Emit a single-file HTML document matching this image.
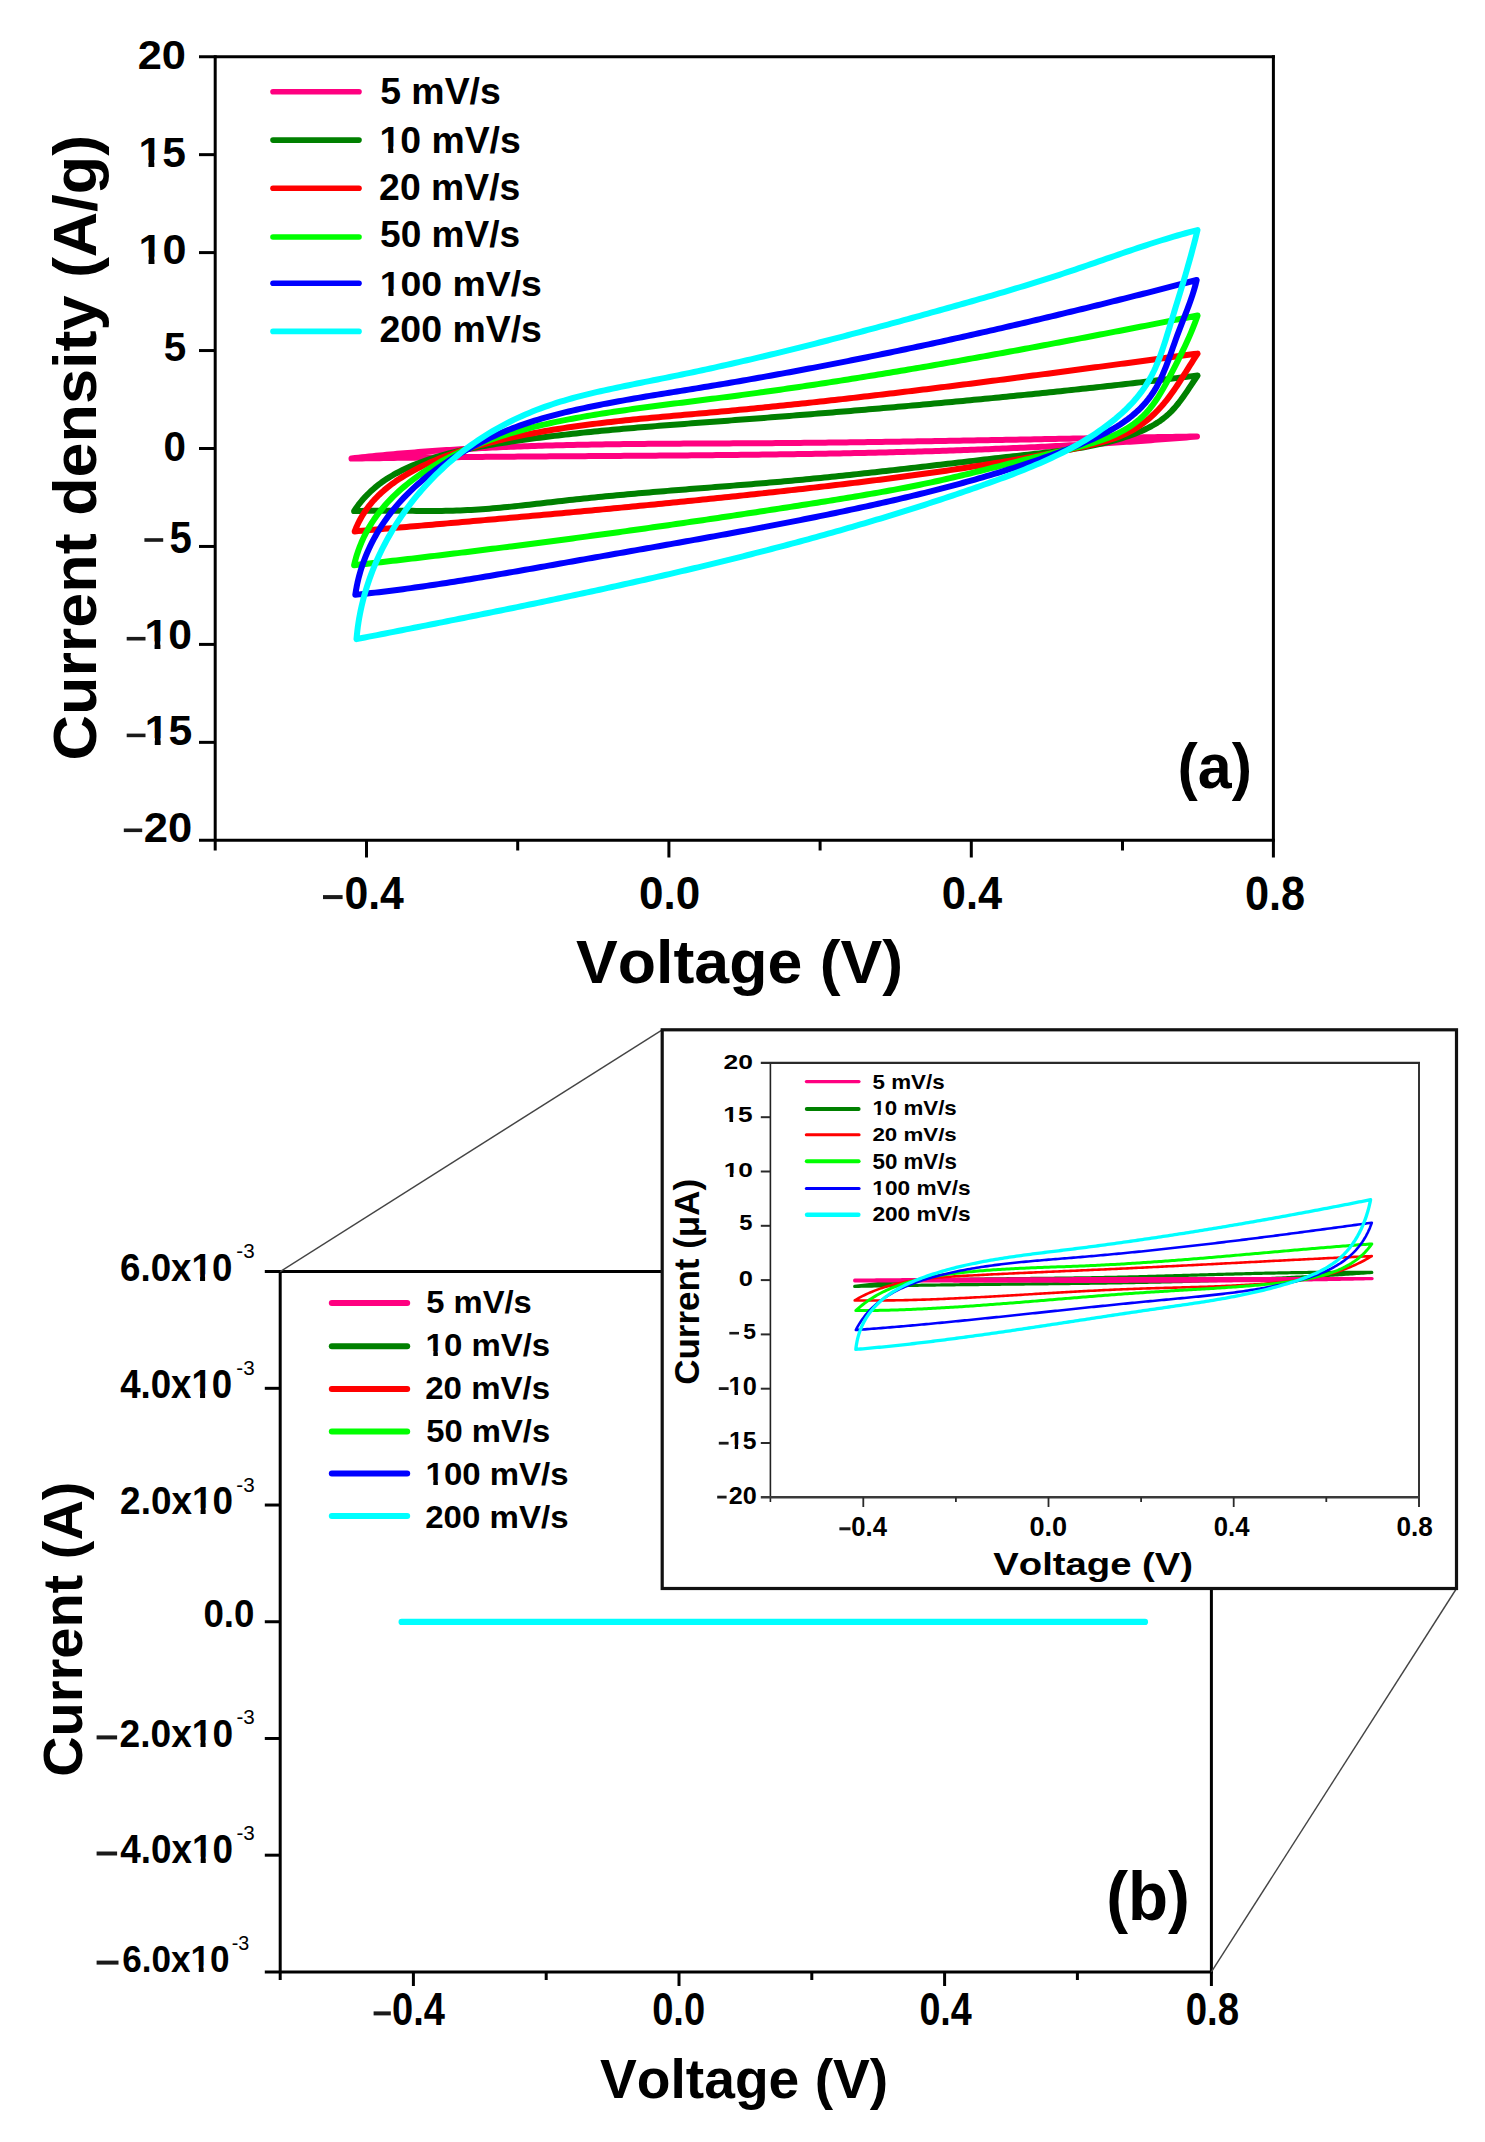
<!DOCTYPE html><html><head><meta charset="utf-8"><style>html,body{margin:0;padding:0;background:#fff;}svg{display:block;}text{font-family:"Liberation Sans",sans-serif;font-kerning:none;}</style></head><body>
<svg width="1485" height="2142" viewBox="0 0 1485 2142">
<rect width="1485" height="2142" fill="#fff"/>
<line x1="215.20" y1="55.20" x2="215.20" y2="850.50" stroke="#000" stroke-width="3.0" stroke-linecap="butt"/>
<line x1="199.00" y1="56.70" x2="1274.90" y2="56.70" stroke="#000" stroke-width="3.0" stroke-linecap="butt"/>
<line x1="1273.40" y1="55.20" x2="1273.40" y2="857.50" stroke="#000" stroke-width="3.0" stroke-linecap="butt"/>
<line x1="199.00" y1="840.30" x2="1274.90" y2="840.30" stroke="#000" stroke-width="3.0" stroke-linecap="butt"/>
<line x1="199.00" y1="154.65" x2="215.20" y2="154.65" stroke="#000" stroke-width="3.0" stroke-linecap="butt"/>
<line x1="199.00" y1="252.60" x2="215.20" y2="252.60" stroke="#000" stroke-width="3.0" stroke-linecap="butt"/>
<line x1="199.00" y1="350.55" x2="215.20" y2="350.55" stroke="#000" stroke-width="3.0" stroke-linecap="butt"/>
<line x1="199.00" y1="448.50" x2="215.20" y2="448.50" stroke="#000" stroke-width="3.0" stroke-linecap="butt"/>
<line x1="199.00" y1="546.45" x2="215.20" y2="546.45" stroke="#000" stroke-width="3.0" stroke-linecap="butt"/>
<line x1="199.00" y1="644.40" x2="215.20" y2="644.40" stroke="#000" stroke-width="3.0" stroke-linecap="butt"/>
<line x1="199.00" y1="742.35" x2="215.20" y2="742.35" stroke="#000" stroke-width="3.0" stroke-linecap="butt"/>
<line x1="366.50" y1="840.30" x2="366.50" y2="857.50" stroke="#000" stroke-width="3.0" stroke-linecap="butt"/>
<line x1="668.90" y1="840.30" x2="668.90" y2="857.50" stroke="#000" stroke-width="3.0" stroke-linecap="butt"/>
<line x1="971.30" y1="840.30" x2="971.30" y2="857.50" stroke="#000" stroke-width="3.0" stroke-linecap="butt"/>
<line x1="517.70" y1="840.30" x2="517.70" y2="850.50" stroke="#000" stroke-width="3.0" stroke-linecap="butt"/>
<line x1="820.10" y1="840.30" x2="820.10" y2="850.50" stroke="#000" stroke-width="3.0" stroke-linecap="butt"/>
<line x1="1122.50" y1="840.30" x2="1122.50" y2="850.50" stroke="#000" stroke-width="3.0" stroke-linecap="butt"/>
<text transform="translate(137.70,68.70) scale(1.0635,1)" font-size="40.82" font-weight="bold" fill="#000">20</text>
<text transform="translate(138.52,167.08) scale(1.0005,1)" font-size="42.56" font-weight="bold" fill="#000">15</text>
<rect x="138.52" y="159.85" width="9.94" height="8.94" fill="#fff"/>
<rect x="154.30" y="159.85" width="7.90" height="8.94" fill="#fff"/>
<text transform="translate(138.48,263.69) scale(1.0284,1)" font-size="41.95" font-weight="bold" fill="#000">10</text>
<rect x="138.48" y="256.56" width="10.07" height="8.81" fill="#fff"/>
<rect x="154.47" y="256.56" width="8.00" height="8.81" fill="#fff"/>
<text transform="translate(163.76,361.49) scale(0.9754,1)" font-size="41.42" font-weight="bold" fill="#000">5</text>
<text transform="translate(163.40,460.68) scale(0.9496,1)" font-size="42.51" font-weight="bold" fill="#000">0</text>
<rect x="144.40" y="538.20" width="18.80" height="3.60" fill="#1a1a1a"/>
<text transform="translate(169.46,552.87) scale(0.9196,1)" font-size="43.71" font-weight="bold" fill="#000">5</text>
<rect x="126.70" y="636.90" width="18.80" height="3.60" fill="#1a1a1a"/>
<text transform="translate(144.61,648.68) scale(0.9899,1)" font-size="43.08" font-weight="bold" fill="#000">10</text>
<rect x="144.61" y="641.35" width="9.95" height="9.05" fill="#fff"/>
<rect x="160.42" y="641.35" width="7.91" height="9.05" fill="#fff"/>
<rect x="126.70" y="733.60" width="18.80" height="3.60" fill="#1a1a1a"/>
<text transform="translate(144.81,745.48) scale(0.9895,1)" font-size="43.14" font-weight="bold" fill="#000">15</text>
<rect x="144.81" y="738.14" width="9.96" height="9.06" fill="#fff"/>
<rect x="160.63" y="738.14" width="7.91" height="9.06" fill="#fff"/>
<rect x="123.80" y="828.50" width="18.40" height="3.60" fill="#1a1a1a"/>
<text transform="translate(143.69,841.88) scale(1.0233,1)" font-size="42.51" font-weight="bold" fill="#000">20</text>
<rect x="323.00" y="895.10" width="19.60" height="4.00" fill="#1a1a1a"/>
<text transform="translate(344.41,909.05) scale(0.9312,1)" font-size="45.90" font-weight="bold" fill="#000">0.4</text>
<text transform="translate(638.96,909.44) scale(0.9352,1)" font-size="47.03" font-weight="bold" fill="#000">0.0</text>
<text transform="translate(941.78,909.44) scale(0.9230,1)" font-size="47.03" font-weight="bold" fill="#000">0.4</text>
<text transform="translate(1244.99,910.04) scale(0.9159,1)" font-size="47.32" font-weight="bold" fill="#000">0.8</text>
<text transform="translate(576.07,982.50) scale(1.0286,1)" font-size="60.90" font-weight="bold" fill="#000">Voltage (V)</text>
<text transform="translate(96.44,760.48) rotate(-90) scale(1.0397,1)" font-size="60.51" font-weight="bold" fill="#000">Current density (A/g)</text>
<text transform="translate(1177.47,787.64) scale(0.9759,1)" font-size="62.44" font-weight="bold" fill="#000">(a)</text>
<line x1="273.00" y1="91.80" x2="359.00" y2="91.80" stroke="#ff0080" stroke-width="5.6" stroke-linecap="round"/>
<text transform="translate(380.15,104.14) scale(1.0233,1)" font-size="36.58" font-weight="bold" fill="#000">5 mV/s</text>
<line x1="273.00" y1="140.10" x2="359.00" y2="140.10" stroke="#008000" stroke-width="5.6" stroke-linecap="round"/>
<text transform="translate(379.44,152.64) scale(1.0224,1)" font-size="36.58" font-weight="bold" fill="#000">10 mV/s</text>
<rect x="379.44" y="146.42" width="8.73" height="7.68" fill="#fff"/>
<rect x="393.31" y="146.42" width="6.93" height="7.68" fill="#fff"/>
<line x1="273.00" y1="188.30" x2="359.00" y2="188.30" stroke="#ff0000" stroke-width="5.6" stroke-linecap="round"/>
<text transform="translate(379.10,199.64) scale(1.0057,1)" font-size="37.15" font-weight="bold" fill="#000">20 mV/s</text>
<line x1="273.00" y1="237.00" x2="359.00" y2="237.00" stroke="#00ff00" stroke-width="5.6" stroke-linecap="round"/>
<text transform="translate(380.06,247.44) scale(1.0012,1)" font-size="37.01" font-weight="bold" fill="#000">50 mV/s</text>
<line x1="273.00" y1="283.20" x2="359.00" y2="283.20" stroke="#0000ff" stroke-width="5.6" stroke-linecap="round"/>
<text transform="translate(379.64,295.65) scale(1.0473,1)" font-size="35.73" font-weight="bold" fill="#000">100 mV/s</text>
<rect x="379.64" y="289.57" width="8.74" height="7.50" fill="#fff"/>
<rect x="393.51" y="289.57" width="6.94" height="7.50" fill="#fff"/>
<line x1="273.00" y1="331.40" x2="359.00" y2="331.40" stroke="#00ffff" stroke-width="5.6" stroke-linecap="round"/>
<text transform="translate(379.50,342.04) scale(1.0319,1)" font-size="36.30" font-weight="bold" fill="#000">200 mV/s</text>
<path d="M351.50,458.50 L355.01,458.09 L358.53,457.69 L362.04,457.31 L365.56,456.93 L369.07,456.56 L372.59,456.20 L376.11,455.85 L379.62,455.50 L383.14,455.16 L386.66,454.82 L390.18,454.49 L393.70,454.17 L397.22,453.86 L400.74,453.55 L404.26,453.25 L407.78,452.95 L411.31,452.66 L414.83,452.38 L418.35,452.10 L421.88,451.83 L425.40,451.57 L428.92,451.31 L432.45,451.05 L435.98,450.81 L439.50,450.57 L443.03,450.33 L446.55,450.10 L450.08,449.88 L453.61,449.66 L457.14,449.44 L460.67,449.23 L464.20,449.03 L467.73,448.83 L471.25,448.64 L474.79,448.45 L478.32,448.27 L481.85,448.09 L485.38,447.91 L488.91,447.75 L492.44,447.58 L495.97,447.42 L499.51,447.27 L503.04,447.12 L506.57,446.97 L510.11,446.83 L513.64,446.69 L517.18,446.56 L520.71,446.43 L524.25,446.30 L527.78,446.18 L531.32,446.06 L534.85,445.95 L538.39,445.83 L541.93,445.73 L545.46,445.62 L549.00,445.52 L552.54,445.43 L556.08,445.34 L559.61,445.25 L563.15,445.16 L566.69,445.08 L570.23,444.99 L573.77,444.92 L577.31,444.84 L580.85,444.77 L584.39,444.70 L587.93,444.64 L591.47,444.57 L595.01,444.51 L598.55,444.45 L602.09,444.40 L605.63,444.34 L609.17,444.29 L612.71,444.24 L616.25,444.19 L619.79,444.15 L623.33,444.11 L626.87,444.07 L630.42,444.03 L633.96,443.99 L637.50,443.95 L641.04,443.92 L644.59,443.89 L648.13,443.85 L651.67,443.82 L655.21,443.80 L658.76,443.77 L662.30,443.74 L665.84,443.72 L669.38,443.69 L672.93,443.67 L676.47,443.65 L680.01,443.63 L683.56,443.61 L687.10,443.59 L690.64,443.57 L694.19,443.55 L697.73,443.53 L701.27,443.51 L704.82,443.49 L708.36,443.48 L711.90,443.46 L715.45,443.44 L718.99,443.43 L722.53,443.41 L726.08,443.39 L729.62,443.38 L733.16,443.36 L736.71,443.34 L740.25,443.32 L743.79,443.30 L747.34,443.28 L750.88,443.26 L754.42,443.24 L757.97,443.22 L761.51,443.20 L765.05,443.18 L768.60,443.15 L772.14,443.13 L775.68,443.10 L779.22,443.08 L782.77,443.05 L786.31,443.02 L789.85,442.99 L793.39,442.96 L796.93,442.93 L800.48,442.89 L804.02,442.86 L807.56,442.82 L811.10,442.79 L814.64,442.75 L818.19,442.71 L821.73,442.68 L825.27,442.64 L828.81,442.60 L832.35,442.56 L835.89,442.52 L839.43,442.47 L842.97,442.43 L846.52,442.39 L850.06,442.34 L853.60,442.30 L857.14,442.25 L860.68,442.20 L864.22,442.16 L867.76,442.11 L871.30,442.06 L874.84,442.01 L878.38,441.96 L881.92,441.91 L885.46,441.86 L889.00,441.80 L892.55,441.75 L896.09,441.70 L899.63,441.64 L903.17,441.59 L906.71,441.54 L910.25,441.48 L913.79,441.42 L917.33,441.37 L920.87,441.31 L924.41,441.25 L927.95,441.20 L931.49,441.14 L935.03,441.08 L938.57,441.02 L942.11,440.96 L945.65,440.90 L949.19,440.84 L952.73,440.78 L956.27,440.72 L959.81,440.66 L963.35,440.60 L966.89,440.53 L970.43,440.47 L973.97,440.41 L977.51,440.35 L981.05,440.28 L984.58,440.22 L988.12,440.16 L991.66,440.09 L995.20,440.03 L998.74,439.96 L1002.28,439.90 L1005.82,439.84 L1009.36,439.77 L1012.90,439.71 L1016.44,439.64 L1019.98,439.58 L1023.52,439.51 L1027.06,439.45 L1030.60,439.38 L1034.14,439.32 L1037.68,439.25 L1041.22,439.19 L1044.76,439.12 L1048.30,439.06 L1051.84,438.99 L1055.38,438.93 L1058.92,438.86 L1062.46,438.79 L1066.00,438.73 L1069.54,438.66 L1073.08,438.60 L1076.62,438.54 L1080.16,438.47 L1083.70,438.41 L1087.24,438.34 L1090.78,438.28 L1094.32,438.21 L1097.86,438.15 L1101.40,438.09 L1104.94,438.02 L1108.48,437.96 L1112.02,437.90 L1115.56,437.83 L1119.10,437.77 L1122.64,437.71 L1126.18,437.65 L1129.72,437.59 L1133.26,437.53 L1136.80,437.46 L1140.34,437.40 L1143.88,437.34 L1147.42,437.28 L1150.96,437.23 L1154.51,437.17 L1158.05,437.11 L1161.59,437.05 L1165.13,436.99 L1168.67,436.94 L1172.21,436.88 L1175.75,436.82 L1179.29,436.77 L1182.83,436.71 L1186.38,436.66 L1189.92,436.60 L1193.46,436.55 L1197.00,436.50 L1193.47,436.81 L1189.95,437.10 L1186.42,437.40 L1182.89,437.69 L1179.36,437.97 L1175.83,438.25 L1172.31,438.53 L1168.78,438.81 L1165.25,439.08 L1161.72,439.35 L1158.19,439.62 L1154.66,439.88 L1151.13,440.14 L1147.60,440.40 L1144.07,440.65 L1140.54,440.91 L1137.01,441.15 L1133.48,441.40 L1129.95,441.64 L1126.42,441.88 L1122.89,442.12 L1119.36,442.35 L1115.83,442.58 L1112.30,442.81 L1108.77,443.04 L1105.24,443.26 L1101.71,443.48 L1098.17,443.69 L1094.64,443.91 L1091.11,444.12 L1087.58,444.33 L1084.05,444.53 L1080.51,444.74 L1076.98,444.94 L1073.45,445.14 L1069.91,445.33 L1066.38,445.52 L1062.85,445.71 L1059.31,445.90 L1055.78,446.09 L1052.25,446.27 L1048.71,446.45 L1045.18,446.63 L1041.65,446.80 L1038.11,446.97 L1034.58,447.15 L1031.04,447.31 L1027.51,447.48 L1023.97,447.64 L1020.44,447.80 L1016.91,447.96 L1013.37,448.12 L1009.84,448.27 L1006.30,448.42 L1002.76,448.57 L999.23,448.72 L995.69,448.87 L992.16,449.01 L988.62,449.15 L985.09,449.29 L981.55,449.42 L978.01,449.56 L974.48,449.69 L970.94,449.82 L967.41,449.95 L963.87,450.08 L960.33,450.20 L956.80,450.32 L953.26,450.44 L949.72,450.56 L946.18,450.68 L942.65,450.79 L939.11,450.91 L935.57,451.02 L932.04,451.13 L928.50,451.23 L924.96,451.34 L921.42,451.44 L917.89,451.54 L914.35,451.64 L910.81,451.74 L907.27,451.84 L903.73,451.93 L900.19,452.03 L896.66,452.12 L893.12,452.21 L889.58,452.30 L886.04,452.39 L882.50,452.47 L878.96,452.56 L875.43,452.64 L871.89,452.72 L868.35,452.80 L864.81,452.88 L861.27,452.95 L857.73,453.03 L854.19,453.10 L850.65,453.18 L847.11,453.25 L843.57,453.32 L840.03,453.39 L836.49,453.45 L832.96,453.52 L829.42,453.58 L825.88,453.65 L822.34,453.71 L818.80,453.77 L815.26,453.83 L811.72,453.89 L808.18,453.95 L804.64,454.00 L801.10,454.06 L797.56,454.11 L794.02,454.17 L790.48,454.22 L786.94,454.27 L783.40,454.32 L779.86,454.37 L776.32,454.42 L772.78,454.47 L769.23,454.51 L765.69,454.56 L762.15,454.60 L758.61,454.65 L755.07,454.69 L751.53,454.73 L747.99,454.78 L744.45,454.82 L740.91,454.86 L737.37,454.90 L733.83,454.93 L730.29,454.97 L726.75,455.01 L723.21,455.05 L719.67,455.08 L716.13,455.12 L712.58,455.15 L709.04,455.18 L705.50,455.22 L701.96,455.25 L698.42,455.28 L694.88,455.31 L691.34,455.35 L687.80,455.38 L684.26,455.41 L680.72,455.44 L677.17,455.47 L673.63,455.49 L670.09,455.52 L666.55,455.55 L663.01,455.58 L659.47,455.61 L655.93,455.63 L652.39,455.66 L648.85,455.68 L645.31,455.71 L641.76,455.74 L638.22,455.76 L634.68,455.79 L631.14,455.81 L627.60,455.84 L624.06,455.86 L620.52,455.89 L616.98,455.91 L613.44,455.93 L609.90,455.96 L606.35,455.98 L602.81,456.01 L599.27,456.03 L595.73,456.05 L592.19,456.08 L588.65,456.10 L585.11,456.13 L581.57,456.15 L578.03,456.17 L574.49,456.20 L570.95,456.22 L567.40,456.24 L563.86,456.27 L560.32,456.29 L556.78,456.32 L553.24,456.34 L549.70,456.37 L546.16,456.39 L542.62,456.42 L539.08,456.44 L535.54,456.47 L532.00,456.50 L528.46,456.52 L524.92,456.55 L521.38,456.58 L517.84,456.60 L514.30,456.63 L510.76,456.66 L507.22,456.69 L503.67,456.72 L500.13,456.75 L496.59,456.77 L493.05,456.81 L489.51,456.84 L485.97,456.87 L482.43,456.90 L478.89,456.93 L475.35,456.96 L471.82,457.00 L468.28,457.03 L464.74,457.07 L461.20,457.10 L457.66,457.14 L454.12,457.17 L450.58,457.21 L447.04,457.25 L443.50,457.29 L439.96,457.33 L436.42,457.37 L432.88,457.41 L429.34,457.45 L425.80,457.49 L422.26,457.54 L418.73,457.58 L415.19,457.63 L411.65,457.67 L408.11,457.72 L404.57,457.77 L401.03,457.82 L397.49,457.87 L393.95,457.92 L390.42,457.97 L386.88,458.02 L383.34,458.08 L379.80,458.13 L376.26,458.19 L372.73,458.24 L369.19,458.30 L365.65,458.36 L362.11,458.42 L358.58,458.48 L355.04,458.54 L351.50,458.60 Z" fill="none" stroke="#ff0080" stroke-width="6.0" stroke-linejoin="round" stroke-linecap="round"/>
<path d="M354.10,511.10 L356.20,507.98 L358.39,504.97 L360.66,502.08 L363.00,499.29 L365.43,496.62 L367.93,494.04 L370.49,491.56 L373.13,489.18 L375.83,486.89 L378.59,484.70 L381.41,482.58 L384.29,480.56 L387.23,478.61 L390.21,476.75 L393.24,474.96 L396.32,473.24 L399.44,471.59 L402.60,470.00 L405.80,468.48 L409.04,467.02 L412.31,465.61 L415.60,464.26 L418.93,462.96 L422.28,461.71 L425.65,460.50 L429.04,459.35 L432.46,458.23 L435.90,457.16 L439.35,456.12 L442.83,455.13 L446.32,454.18 L449.83,453.26 L453.35,452.37 L456.89,451.52 L460.45,450.70 L464.01,449.91 L467.59,449.15 L471.17,448.41 L474.77,447.70 L478.37,447.01 L481.98,446.35 L485.60,445.71 L489.22,445.08 L492.85,444.48 L496.48,443.88 L500.11,443.31 L503.74,442.75 L507.37,442.19 L511.01,441.65 L514.64,441.12 L518.26,440.60 L521.89,440.09 L525.52,439.58 L529.15,439.09 L532.77,438.60 L536.39,438.13 L540.02,437.66 L543.64,437.20 L547.26,436.75 L550.88,436.30 L554.50,435.87 L558.12,435.44 L561.74,435.02 L565.36,434.61 L568.98,434.20 L572.59,433.80 L576.21,433.41 L579.82,433.02 L583.44,432.64 L587.05,432.27 L590.67,431.90 L594.28,431.54 L597.89,431.19 L601.50,430.84 L605.12,430.49 L608.73,430.15 L612.34,429.82 L615.95,429.49 L619.56,429.16 L623.17,428.84 L626.78,428.53 L630.39,428.21 L634.00,427.90 L637.61,427.60 L641.21,427.30 L644.82,427.00 L648.43,426.71 L652.04,426.41 L655.65,426.12 L659.25,425.84 L662.86,425.55 L666.47,425.27 L670.08,424.99 L673.69,424.71 L677.29,424.44 L680.90,424.16 L684.51,423.89 L688.12,423.62 L691.73,423.35 L695.33,423.08 L698.94,422.81 L702.55,422.54 L706.16,422.27 L709.77,422.00 L713.38,421.73 L716.99,421.46 L720.60,421.19 L724.21,420.92 L727.82,420.65 L731.43,420.38 L735.05,420.11 L738.66,419.84 L742.27,419.56 L745.88,419.29 L749.50,419.01 L753.11,418.73 L756.72,418.46 L760.34,418.18 L763.95,417.90 L767.57,417.62 L771.18,417.34 L774.80,417.05 L778.41,416.77 L782.03,416.49 L785.64,416.20 L789.26,415.91 L792.88,415.63 L796.49,415.34 L800.11,415.05 L803.73,414.76 L807.34,414.47 L810.96,414.18 L814.58,413.88 L818.20,413.59 L821.82,413.29 L825.43,413.00 L829.05,412.70 L832.67,412.40 L836.29,412.10 L839.91,411.80 L843.53,411.50 L847.15,411.20 L850.77,410.89 L854.39,410.59 L858.01,410.28 L861.63,409.98 L865.25,409.67 L868.87,409.36 L872.49,409.05 L876.11,408.74 L879.73,408.42 L883.35,408.11 L886.97,407.80 L890.59,407.48 L894.21,407.16 L897.83,406.84 L901.45,406.52 L905.07,406.20 L908.69,405.88 L912.31,405.56 L915.93,405.23 L919.55,404.91 L923.17,404.58 L926.79,404.25 L930.41,403.92 L934.03,403.59 L937.65,403.26 L941.27,402.92 L944.89,402.59 L948.51,402.25 L952.13,401.92 L955.75,401.58 L959.37,401.24 L962.98,400.90 L966.60,400.55 L970.22,400.21 L973.84,399.86 L977.46,399.52 L981.08,399.17 L984.70,398.82 L988.31,398.47 L991.93,398.12 L995.55,397.76 L999.17,397.41 L1002.79,397.05 L1006.40,396.69 L1010.02,396.33 L1013.64,395.97 L1017.25,395.61 L1020.87,395.25 L1024.48,394.88 L1028.10,394.52 L1031.72,394.15 L1035.33,393.78 L1038.95,393.41 L1042.56,393.04 L1046.17,392.66 L1049.79,392.29 L1053.40,391.91 L1057.02,391.53 L1060.63,391.15 L1064.24,390.77 L1067.85,390.39 L1071.47,390.00 L1075.08,389.62 L1078.69,389.23 L1082.30,388.84 L1085.91,388.45 L1089.52,388.05 L1093.13,387.66 L1096.74,387.27 L1100.35,386.87 L1103.96,386.47 L1107.56,386.07 L1111.17,385.67 L1114.78,385.26 L1118.38,384.86 L1121.99,384.45 L1125.60,384.04 L1129.20,383.63 L1132.81,383.22 L1136.41,382.80 L1140.01,382.39 L1143.62,381.97 L1147.22,381.55 L1150.82,381.13 L1154.42,380.71 L1158.03,380.28 L1161.63,379.86 L1165.23,379.43 L1168.83,379.00 L1172.42,378.57 L1176.02,378.14 L1179.62,377.70 L1183.22,377.26 L1186.81,376.83 L1190.41,376.39 L1194.00,375.94 L1197.60,375.50 L1195.57,378.48 L1193.54,381.52 L1191.50,384.60 L1189.45,387.70 L1187.37,390.82 L1185.25,393.92 L1183.10,396.99 L1180.89,400.02 L1178.62,402.99 L1176.28,405.88 L1173.87,408.67 L1171.37,411.34 L1168.78,413.88 L1166.09,416.28 L1163.30,418.53 L1160.42,420.64 L1157.45,422.63 L1154.42,424.49 L1151.31,426.24 L1148.14,427.89 L1144.92,429.45 L1141.65,430.91 L1138.34,432.30 L1135.01,433.62 L1131.64,434.88 L1128.26,436.08 L1124.85,437.23 L1121.43,438.32 L1117.98,439.37 L1114.52,440.36 L1111.04,441.31 L1107.55,442.21 L1104.04,443.07 L1100.51,443.89 L1096.97,444.67 L1093.42,445.42 L1089.85,446.13 L1086.27,446.80 L1082.69,447.45 L1079.09,448.06 L1075.48,448.65 L1071.86,449.21 L1068.24,449.75 L1064.60,450.26 L1060.96,450.76 L1057.32,451.24 L1053.67,451.70 L1050.01,452.15 L1046.35,452.58 L1042.69,453.01 L1039.03,453.43 L1035.36,453.84 L1031.70,454.25 L1028.03,454.65 L1024.37,455.06 L1020.71,455.46 L1017.05,455.87 L1013.39,456.28 L1009.73,456.69 L1006.07,457.10 L1002.42,457.52 L998.77,457.93 L995.12,458.35 L991.47,458.77 L987.82,459.19 L984.17,459.60 L980.53,460.03 L976.88,460.45 L973.24,460.87 L969.60,461.29 L965.96,461.71 L962.32,462.14 L958.68,462.56 L955.05,462.98 L951.41,463.41 L947.77,463.83 L944.14,464.25 L940.51,464.68 L936.87,465.10 L933.24,465.52 L929.61,465.94 L925.98,466.36 L922.35,466.78 L918.72,467.20 L915.09,467.62 L911.46,468.04 L907.84,468.46 L904.21,468.87 L900.58,469.29 L896.95,469.70 L893.33,470.11 L889.70,470.52 L886.07,470.93 L882.45,471.34 L878.82,471.74 L875.20,472.15 L871.57,472.55 L867.94,472.95 L864.32,473.34 L860.69,473.74 L857.06,474.13 L853.44,474.52 L849.81,474.91 L846.18,475.29 L842.55,475.67 L838.92,476.05 L835.30,476.43 L831.67,476.80 L828.04,477.17 L824.40,477.54 L820.77,477.90 L817.14,478.26 L813.51,478.61 L809.87,478.97 L806.24,479.32 L802.60,479.66 L798.97,480.00 L795.33,480.34 L791.69,480.67 L788.05,481.00 L784.41,481.33 L780.77,481.65 L777.13,481.97 L773.49,482.29 L769.84,482.60 L766.20,482.91 L762.55,483.22 L758.91,483.53 L755.26,483.83 L751.61,484.14 L747.97,484.44 L744.32,484.73 L740.67,485.03 L737.02,485.33 L733.37,485.62 L729.72,485.91 L726.07,486.21 L722.42,486.50 L718.77,486.79 L715.12,487.08 L711.47,487.37 L707.82,487.66 L704.17,487.95 L700.52,488.24 L696.87,488.53 L693.22,488.82 L689.56,489.11 L685.91,489.41 L682.26,489.70 L678.61,489.99 L674.96,490.29 L671.31,490.59 L667.66,490.88 L664.00,491.18 L660.35,491.49 L656.70,491.79 L653.05,492.10 L649.40,492.41 L645.75,492.72 L642.10,493.03 L638.46,493.35 L634.81,493.67 L631.16,493.99 L627.51,494.32 L623.87,494.64 L620.22,494.98 L616.58,495.31 L612.93,495.65 L609.29,496.00 L605.64,496.35 L602.00,496.70 L598.36,497.06 L594.72,497.42 L591.08,497.79 L587.44,498.16 L583.80,498.54 L580.16,498.92 L576.53,499.31 L572.89,499.70 L569.26,500.10 L565.62,500.51 L561.99,500.92 L558.36,501.33 L554.73,501.75 L551.10,502.17 L547.47,502.59 L543.84,503.01 L540.21,503.42 L536.58,503.84 L532.95,504.25 L529.32,504.66 L525.70,505.07 L522.07,505.47 L518.44,505.86 L514.81,506.25 L511.18,506.62 L507.54,506.99 L503.91,507.34 L500.28,507.69 L496.64,508.02 L493.01,508.34 L489.37,508.64 L485.73,508.93 L482.10,509.20 L478.45,509.46 L474.81,509.69 L471.17,509.91 L467.52,510.11 L463.87,510.28 L460.22,510.44 L456.57,510.57 L452.91,510.67 L449.26,510.76 L445.60,510.83 L441.94,510.88 L438.28,510.92 L434.61,510.94 L430.95,510.95 L427.28,510.94 L423.62,510.93 L419.95,510.91 L416.29,510.88 L412.62,510.85 L408.95,510.82 L405.29,510.79 L401.62,510.75 L397.96,510.72 L394.29,510.69 L390.63,510.67 L386.97,510.66 L383.31,510.65 L379.65,510.65 L375.99,510.67 L372.34,510.70 L368.68,510.74 L365.03,510.80 L361.39,510.88 L357.74,510.98 L354.10,511.10 Z" fill="none" stroke="#008000" stroke-width="6.0" stroke-linejoin="round" stroke-linecap="round"/>
<path d="M354.70,531.40 L356.12,527.82 L357.66,524.34 L359.32,520.97 L361.10,517.71 L362.99,514.54 L364.98,511.47 L367.08,508.50 L369.27,505.62 L371.56,502.83 L373.94,500.12 L376.40,497.51 L378.95,494.97 L381.57,492.52 L384.27,490.14 L387.03,487.83 L389.87,485.60 L392.76,483.44 L395.71,481.35 L398.72,479.32 L401.77,477.36 L404.87,475.45 L408.01,473.60 L411.18,471.81 L414.39,470.07 L417.64,468.37 L420.91,466.73 L424.21,465.14 L427.54,463.60 L430.90,462.10 L434.28,460.64 L437.68,459.23 L441.11,457.86 L444.56,456.53 L448.03,455.24 L451.52,453.99 L455.03,452.78 L458.56,451.60 L462.10,450.45 L465.65,449.34 L469.22,448.26 L472.79,447.21 L476.38,446.20 L479.98,445.20 L483.58,444.24 L487.20,443.30 L490.81,442.39 L494.43,441.50 L498.06,440.63 L501.68,439.78 L505.31,438.95 L508.93,438.14 L512.56,437.35 L516.19,436.58 L519.83,435.83 L523.46,435.09 L527.10,434.38 L530.73,433.68 L534.37,432.99 L538.01,432.33 L541.65,431.68 L545.29,431.05 L548.94,430.43 L552.58,429.83 L556.23,429.24 L559.87,428.67 L563.52,428.11 L567.17,427.56 L570.82,427.03 L574.47,426.51 L578.12,426.00 L581.78,425.50 L585.43,425.02 L589.09,424.55 L592.74,424.08 L596.40,423.63 L600.06,423.19 L603.72,422.76 L607.38,422.33 L611.04,421.92 L614.70,421.51 L618.36,421.11 L622.02,420.72 L625.69,420.34 L629.35,419.96 L633.02,419.59 L636.68,419.22 L640.35,418.86 L644.01,418.51 L647.68,418.16 L651.35,417.81 L655.02,417.47 L658.68,417.14 L662.35,416.80 L666.02,416.47 L669.69,416.14 L673.36,415.81 L677.03,415.49 L680.70,415.17 L684.37,414.84 L688.04,414.52 L691.71,414.20 L695.39,413.87 L699.06,413.55 L702.73,413.22 L706.40,412.90 L710.07,412.57 L713.74,412.24 L717.42,411.91 L721.09,411.57 L724.76,411.23 L728.43,410.89 L732.10,410.55 L735.77,410.20 L739.45,409.85 L743.12,409.50 L746.79,409.14 L750.46,408.79 L754.13,408.43 L757.80,408.07 L761.48,407.70 L765.15,407.34 L768.82,406.97 L772.49,406.59 L776.16,406.22 L779.83,405.84 L783.51,405.47 L787.18,405.09 L790.85,404.70 L794.52,404.32 L798.19,403.93 L801.86,403.54 L805.53,403.15 L809.21,402.75 L812.88,402.36 L816.55,401.96 L820.22,401.56 L823.89,401.16 L827.56,400.75 L831.23,400.35 L834.90,399.94 L838.57,399.53 L842.24,399.12 L845.91,398.70 L849.59,398.29 L853.26,397.87 L856.93,397.45 L860.60,397.03 L864.27,396.60 L867.94,396.18 L871.61,395.75 L875.28,395.32 L878.95,394.89 L882.62,394.46 L886.29,394.03 L889.96,393.59 L893.62,393.15 L897.29,392.72 L900.96,392.28 L904.63,391.83 L908.30,391.39 L911.97,390.95 L915.64,390.50 L919.31,390.05 L922.98,389.60 L926.64,389.15 L930.31,388.70 L933.98,388.25 L937.65,387.79 L941.32,387.34 L944.98,386.88 L948.65,386.42 L952.32,385.96 L955.99,385.50 L959.65,385.04 L963.32,384.58 L966.99,384.12 L970.65,383.65 L974.32,383.18 L977.99,382.72 L981.65,382.25 L985.32,381.78 L988.99,381.31 L992.65,380.84 L996.32,380.36 L999.98,379.89 L1003.65,379.42 L1007.31,378.94 L1010.98,378.47 L1014.64,377.99 L1018.31,377.51 L1021.97,377.03 L1025.64,376.55 L1029.30,376.07 L1032.96,375.59 L1036.63,375.11 L1040.29,374.63 L1043.95,374.15 L1047.62,373.66 L1051.28,373.18 L1054.94,372.70 L1058.60,372.21 L1062.27,371.73 L1065.93,371.24 L1069.59,370.75 L1073.25,370.27 L1076.91,369.78 L1080.57,369.29 L1084.24,368.80 L1087.90,368.31 L1091.56,367.82 L1095.22,367.34 L1098.88,366.85 L1102.54,366.36 L1106.20,365.87 L1109.86,365.38 L1113.51,364.89 L1117.17,364.39 L1120.83,363.90 L1124.49,363.41 L1128.15,362.92 L1131.81,362.43 L1135.46,361.94 L1139.12,361.45 L1142.78,360.96 L1146.43,360.47 L1150.09,359.97 L1153.75,359.48 L1157.40,358.99 L1161.06,358.50 L1164.71,358.01 L1168.37,357.52 L1172.02,357.03 L1175.68,356.54 L1179.33,356.05 L1182.99,355.56 L1186.64,355.07 L1190.29,354.58 L1193.95,354.09 L1197.60,353.60 L1195.60,356.60 L1193.60,359.66 L1191.62,362.77 L1189.63,365.91 L1187.65,369.07 L1185.65,372.26 L1183.64,375.45 L1181.61,378.65 L1179.56,381.84 L1177.48,385.01 L1175.37,388.16 L1173.21,391.28 L1171.02,394.35 L1168.77,397.37 L1166.47,400.33 L1164.12,403.23 L1161.70,406.05 L1159.22,408.80 L1156.68,411.46 L1154.07,414.04 L1151.40,416.53 L1148.67,418.92 L1145.87,421.22 L1143.00,423.42 L1140.06,425.51 L1137.06,427.50 L1133.99,429.37 L1130.84,431.12 L1127.63,432.76 L1124.36,434.30 L1121.02,435.74 L1117.64,437.09 L1114.21,438.35 L1110.73,439.53 L1107.21,440.65 L1103.66,441.69 L1100.08,442.68 L1096.47,443.62 L1092.85,444.52 L1089.20,445.38 L1085.55,446.21 L1081.89,447.01 L1078.23,447.80 L1074.56,448.58 L1070.90,449.34 L1067.24,450.09 L1063.57,450.83 L1059.91,451.56 L1056.25,452.28 L1052.58,452.99 L1048.92,453.69 L1045.26,454.38 L1041.59,455.06 L1037.93,455.73 L1034.26,456.40 L1030.60,457.06 L1026.93,457.71 L1023.26,458.36 L1019.60,459.00 L1015.93,459.64 L1012.26,460.27 L1008.59,460.89 L1004.92,461.51 L1001.25,462.12 L997.58,462.73 L993.91,463.33 L990.24,463.93 L986.57,464.52 L982.90,465.10 L979.22,465.68 L975.55,466.26 L971.88,466.83 L968.20,467.39 L964.53,467.95 L960.85,468.51 L957.18,469.06 L953.50,469.61 L949.83,470.15 L946.15,470.69 L942.47,471.22 L938.80,471.75 L935.12,472.27 L931.44,472.79 L927.76,473.31 L924.08,473.82 L920.40,474.33 L916.72,474.83 L913.04,475.33 L909.36,475.83 L905.68,476.32 L902.00,476.81 L898.32,477.29 L894.63,477.77 L890.95,478.25 L887.27,478.73 L883.58,479.20 L879.90,479.67 L876.21,480.13 L872.53,480.60 L868.84,481.05 L865.16,481.51 L861.47,481.96 L857.79,482.42 L854.10,482.86 L850.41,483.31 L846.73,483.75 L843.04,484.19 L839.35,484.63 L835.66,485.07 L831.97,485.50 L828.28,485.93 L824.59,486.36 L820.90,486.79 L817.21,487.21 L813.52,487.64 L809.83,488.06 L806.14,488.48 L802.45,488.90 L798.76,489.32 L795.07,489.73 L791.37,490.14 L787.68,490.56 L783.99,490.97 L780.29,491.37 L776.60,491.78 L772.91,492.19 L769.21,492.59 L765.52,492.99 L761.82,493.39 L758.13,493.79 L754.43,494.19 L750.74,494.59 L747.04,494.98 L743.35,495.37 L739.65,495.76 L735.95,496.15 L732.26,496.54 L728.56,496.93 L724.86,497.32 L721.16,497.70 L717.47,498.08 L713.77,498.47 L710.07,498.85 L706.37,499.23 L702.67,499.60 L698.98,499.98 L695.28,500.36 L691.58,500.73 L687.88,501.10 L684.18,501.47 L680.48,501.84 L676.78,502.21 L673.08,502.58 L669.38,502.95 L665.68,503.31 L661.98,503.68 L658.28,504.04 L654.58,504.40 L650.88,504.77 L647.17,505.13 L643.47,505.48 L639.77,505.84 L636.07,506.20 L632.37,506.55 L628.67,506.91 L624.96,507.26 L621.26,507.62 L617.56,507.97 L613.86,508.32 L610.16,508.67 L606.45,509.02 L602.75,509.37 L599.05,509.71 L595.35,510.06 L591.64,510.41 L587.94,510.75 L584.24,511.09 L580.53,511.44 L576.83,511.78 L573.13,512.12 L569.43,512.46 L565.72,512.80 L562.02,513.14 L558.32,513.48 L554.61,513.82 L550.91,514.15 L547.21,514.49 L543.50,514.83 L539.80,515.16 L536.10,515.50 L532.39,515.83 L528.69,516.16 L524.99,516.50 L521.28,516.83 L517.58,517.16 L513.88,517.49 L510.17,517.82 L506.47,518.15 L502.77,518.48 L499.06,518.81 L495.36,519.14 L491.66,519.46 L487.95,519.79 L484.25,520.12 L480.55,520.45 L476.84,520.77 L473.14,521.10 L469.44,521.42 L465.73,521.75 L462.03,522.07 L458.33,522.40 L454.63,522.72 L450.92,523.04 L447.22,523.37 L443.52,523.69 L439.82,524.01 L436.11,524.34 L432.41,524.66 L428.71,524.98 L425.01,525.30 L421.31,525.63 L417.61,525.95 L413.90,526.27 L410.20,526.59 L406.50,526.91 L402.80,527.23 L399.10,527.55 L395.40,527.88 L391.70,528.20 L388.00,528.52 L384.30,528.84 L380.60,529.16 L376.90,529.48 L373.20,529.80 L369.50,530.12 L365.80,530.44 L362.10,530.76 L358.40,531.09 L354.70,531.40 Z" fill="none" stroke="#ff0000" stroke-width="6.0" stroke-linejoin="round" stroke-linecap="round"/>
<path d="M354.10,565.20 L355.04,561.29 L356.09,557.45 L357.25,553.67 L358.50,549.97 L359.86,546.33 L361.31,542.76 L362.85,539.25 L364.49,535.81 L366.22,532.43 L368.04,529.12 L369.94,525.87 L371.92,522.68 L373.98,519.55 L376.12,516.49 L378.34,513.48 L380.63,510.54 L382.99,507.65 L385.42,504.82 L387.92,502.05 L390.48,499.34 L393.10,496.68 L395.79,494.08 L398.53,491.53 L401.32,489.04 L404.17,486.60 L407.07,484.21 L410.01,481.88 L413.00,479.59 L416.04,477.36 L419.12,475.17 L422.23,473.04 L425.39,470.95 L428.59,468.92 L431.82,466.93 L435.09,464.98 L438.39,463.09 L441.72,461.23 L445.09,459.43 L448.48,457.66 L451.90,455.94 L455.35,454.26 L458.82,452.63 L462.31,451.03 L465.83,449.48 L469.36,447.96 L472.92,446.48 L476.49,445.05 L480.08,443.65 L483.68,442.28 L487.30,440.96 L490.92,439.67 L494.56,438.41 L498.20,437.19 L501.86,436.00 L505.52,434.85 L509.18,433.73 L512.86,432.63 L516.53,431.57 L520.22,430.54 L523.91,429.54 L527.61,428.56 L531.31,427.61 L535.02,426.69 L538.73,425.79 L542.45,424.92 L546.18,424.07 L549.90,423.24 L553.64,422.44 L557.37,421.65 L561.11,420.89 L564.85,420.14 L568.60,419.41 L572.35,418.70 L576.10,418.01 L579.86,417.33 L583.62,416.67 L587.38,416.02 L591.14,415.39 L594.91,414.77 L598.67,414.16 L602.44,413.56 L606.21,412.97 L609.98,412.39 L613.75,411.82 L617.52,411.25 L621.30,410.70 L625.07,410.16 L628.85,409.62 L632.62,409.09 L636.40,408.56 L640.18,408.05 L643.96,407.53 L647.74,407.03 L651.52,406.53 L655.30,406.03 L659.09,405.54 L662.87,405.05 L666.65,404.56 L670.43,404.08 L674.22,403.60 L678.00,403.12 L681.79,402.65 L685.57,402.17 L689.36,401.70 L693.14,401.22 L696.93,400.75 L700.72,400.27 L704.50,399.80 L708.29,399.32 L712.07,398.84 L715.86,398.36 L719.64,397.88 L723.43,397.39 L727.21,396.90 L730.99,396.41 L734.78,395.91 L738.56,395.41 L742.34,394.90 L746.13,394.40 L749.91,393.88 L753.69,393.37 L757.47,392.85 L761.25,392.33 L765.04,391.80 L768.82,391.27 L772.60,390.74 L776.38,390.20 L780.16,389.66 L783.93,389.12 L787.71,388.58 L791.49,388.03 L795.27,387.48 L799.05,386.92 L802.83,386.36 L806.60,385.80 L810.38,385.24 L814.16,384.67 L817.93,384.10 L821.71,383.52 L825.48,382.95 L829.26,382.37 L833.03,381.78 L836.81,381.20 L840.58,380.61 L844.36,380.02 L848.13,379.42 L851.90,378.83 L855.68,378.23 L859.45,377.62 L863.22,377.02 L866.99,376.41 L870.76,375.80 L874.53,375.19 L878.30,374.57 L882.08,373.95 L885.85,373.33 L889.61,372.71 L893.38,372.08 L897.15,371.45 L900.92,370.82 L904.69,370.19 L908.46,369.55 L912.23,368.91 L915.99,368.27 L919.76,367.63 L923.53,366.98 L927.29,366.34 L931.06,365.69 L934.83,365.04 L938.59,364.38 L942.36,363.72 L946.12,363.07 L949.88,362.41 L953.65,361.74 L957.41,361.08 L961.18,360.41 L964.94,359.74 L968.70,359.07 L972.46,358.40 L976.23,357.73 L979.99,357.05 L983.75,356.37 L987.51,355.69 L991.27,355.01 L995.03,354.32 L998.79,353.64 L1002.55,352.95 L1006.31,352.26 L1010.07,351.57 L1013.83,350.88 L1017.59,350.19 L1021.34,349.49 L1025.10,348.79 L1028.86,348.09 L1032.62,347.39 L1036.37,346.69 L1040.13,345.99 L1043.89,345.29 L1047.64,344.58 L1051.40,343.87 L1055.15,343.16 L1058.91,342.45 L1062.66,341.74 L1066.41,341.03 L1070.17,340.32 L1073.92,339.60 L1077.67,338.89 L1081.43,338.17 L1085.18,337.45 L1088.93,336.73 L1092.68,336.01 L1096.44,335.29 L1100.19,334.56 L1103.94,333.84 L1107.69,333.12 L1111.44,332.39 L1115.19,331.66 L1118.94,330.94 L1122.69,330.21 L1126.43,329.48 L1130.18,328.75 L1133.93,328.02 L1137.68,327.29 L1141.43,326.55 L1145.17,325.82 L1148.92,325.09 L1152.67,324.35 L1156.41,323.62 L1160.16,322.88 L1163.90,322.15 L1167.65,321.41 L1171.39,320.67 L1175.14,319.93 L1178.88,319.20 L1182.63,318.46 L1186.37,317.72 L1190.11,316.98 L1193.86,316.24 L1197.60,315.50 L1196.37,318.99 L1195.08,322.47 L1193.73,325.95 L1192.34,329.41 L1190.89,332.87 L1189.40,336.32 L1187.87,339.78 L1186.29,343.23 L1184.68,346.69 L1183.03,350.16 L1181.35,353.63 L1179.64,357.11 L1177.90,360.60 L1176.13,364.11 L1174.34,367.63 L1172.53,371.17 L1170.70,374.72 L1168.84,378.28 L1166.96,381.83 L1165.03,385.37 L1163.06,388.86 L1161.04,392.32 L1158.96,395.71 L1156.82,399.04 L1154.61,402.28 L1152.32,405.43 L1149.95,408.46 L1147.49,411.38 L1144.93,414.16 L1142.28,416.80 L1139.53,419.30 L1136.68,421.66 L1133.75,423.90 L1130.73,426.02 L1127.63,428.02 L1124.46,429.90 L1121.22,431.69 L1117.90,433.37 L1114.53,434.96 L1111.09,436.46 L1107.60,437.89 L1104.06,439.23 L1100.47,440.51 L1096.84,441.72 L1093.16,442.87 L1089.46,443.97 L1085.72,445.03 L1081.96,446.04 L1078.18,447.01 L1074.37,447.96 L1070.56,448.88 L1066.73,449.79 L1062.90,450.68 L1059.07,451.57 L1055.24,452.46 L1051.41,453.35 L1047.60,454.25 L1043.79,455.15 L1039.99,456.07 L1036.20,456.98 L1032.41,457.91 L1028.63,458.83 L1024.86,459.76 L1021.10,460.70 L1017.33,461.64 L1013.58,462.57 L1009.83,463.51 L1006.08,464.45 L1002.33,465.39 L998.59,466.33 L994.85,467.27 L991.12,468.20 L987.38,469.13 L983.65,470.06 L979.92,470.99 L976.18,471.91 L972.45,472.82 L968.72,473.73 L964.99,474.63 L961.26,475.53 L957.52,476.41 L953.79,477.29 L950.05,478.16 L946.30,479.02 L942.56,479.86 L938.81,480.70 L935.06,481.52 L931.30,482.34 L927.54,483.14 L923.78,483.92 L920.01,484.70 L916.23,485.46 L912.46,486.22 L908.68,486.96 L904.89,487.70 L901.11,488.42 L897.32,489.14 L893.53,489.84 L889.73,490.54 L885.93,491.23 L882.13,491.91 L878.33,492.59 L874.52,493.25 L870.72,493.92 L866.91,494.57 L863.10,495.22 L859.28,495.86 L855.47,496.50 L851.65,497.13 L847.84,497.76 L844.02,498.38 L840.20,499.00 L836.38,499.62 L832.56,500.24 L828.74,500.85 L824.92,501.46 L821.10,502.06 L817.28,502.67 L813.45,503.27 L809.63,503.88 L805.81,504.48 L801.99,505.08 L798.17,505.68 L794.35,506.27 L790.53,506.87 L786.71,507.46 L782.89,508.06 L779.06,508.65 L775.24,509.24 L771.42,509.82 L767.60,510.41 L763.78,511.00 L759.96,511.58 L756.14,512.16 L752.31,512.74 L748.49,513.32 L744.67,513.90 L740.85,514.48 L737.03,515.05 L733.21,515.63 L729.38,516.20 L725.56,516.77 L721.74,517.34 L717.92,517.91 L714.09,518.48 L710.27,519.04 L706.45,519.60 L702.63,520.17 L698.81,520.73 L694.98,521.29 L691.16,521.84 L687.34,522.40 L683.51,522.96 L679.69,523.51 L675.87,524.06 L672.05,524.61 L668.22,525.16 L664.40,525.71 L660.58,526.26 L656.75,526.80 L652.93,527.34 L649.10,527.89 L645.28,528.43 L641.46,528.96 L637.63,529.50 L633.81,530.04 L629.98,530.57 L626.16,531.11 L622.33,531.64 L618.51,532.17 L614.68,532.70 L610.86,533.22 L607.03,533.75 L603.21,534.27 L599.38,534.80 L595.56,535.32 L591.73,535.84 L587.91,536.36 L584.08,536.87 L580.25,537.39 L576.43,537.90 L572.60,538.42 L568.77,538.93 L564.95,539.44 L561.12,539.95 L557.29,540.45 L553.46,540.96 L549.64,541.46 L545.81,541.96 L541.98,542.46 L538.15,542.96 L534.32,543.46 L530.49,543.96 L526.66,544.45 L522.83,544.95 L519.01,545.44 L515.18,545.93 L511.35,546.42 L507.52,546.91 L503.69,547.39 L499.85,547.88 L496.02,548.36 L492.19,548.84 L488.36,549.32 L484.53,549.80 L480.70,550.28 L476.87,550.75 L473.03,551.23 L469.20,551.70 L465.37,552.17 L461.54,552.64 L457.70,553.11 L453.87,553.58 L450.04,554.04 L446.20,554.51 L442.37,554.97 L438.53,555.43 L434.70,555.89 L430.86,556.35 L427.03,556.81 L423.19,557.26 L419.36,557.72 L415.52,558.17 L411.68,558.62 L407.85,559.07 L404.01,559.52 L400.17,559.96 L396.33,560.41 L392.50,560.85 L388.66,561.29 L384.82,561.73 L380.98,562.17 L377.14,562.61 L373.30,563.05 L369.46,563.48 L365.62,563.91 L361.78,564.35 L357.94,564.78 L354.10,565.20 Z" fill="none" stroke="#00ff00" stroke-width="6.0" stroke-linejoin="round" stroke-linecap="round"/>
<path d="M355.30,594.80 L355.91,590.84 L356.62,586.92 L357.42,583.02 L358.32,579.15 L359.30,575.31 L360.38,571.51 L361.54,567.74 L362.79,564.00 L364.13,560.30 L365.55,556.64 L367.05,553.01 L368.63,549.42 L370.29,545.87 L372.03,542.36 L373.85,538.88 L375.74,535.45 L377.70,532.07 L379.73,528.72 L381.84,525.42 L384.01,522.17 L386.25,518.96 L388.55,515.80 L390.92,512.69 L393.35,509.62 L395.84,506.61 L398.39,503.64 L400.99,500.73 L403.66,497.86 L406.37,495.05 L409.14,492.28 L411.96,489.55 L414.83,486.88 L417.74,484.25 L420.71,481.67 L423.71,479.14 L426.76,476.65 L429.85,474.21 L432.98,471.81 L436.15,469.45 L439.35,467.15 L442.59,464.88 L445.86,462.66 L449.16,460.48 L452.49,458.35 L455.85,456.26 L459.24,454.21 L462.65,452.20 L466.08,450.24 L469.54,448.31 L473.02,446.43 L476.51,444.58 L480.02,442.78 L483.55,441.02 L487.10,439.30 L490.67,437.62 L494.25,435.98 L497.85,434.38 L501.47,432.83 L505.10,431.31 L508.74,429.84 L512.40,428.41 L516.07,427.02 L519.76,425.67 L523.46,424.36 L527.17,423.10 L530.90,421.87 L534.63,420.69 L538.38,419.54 L542.14,418.43 L545.91,417.35 L549.68,416.31 L553.47,415.30 L557.26,414.31 L561.06,413.36 L564.87,412.43 L568.69,411.52 L572.51,410.64 L576.34,409.77 L580.17,408.93 L584.01,408.10 L587.85,407.29 L591.70,406.49 L595.55,405.71 L599.40,404.94 L603.26,404.18 L607.12,403.44 L610.98,402.71 L614.85,401.99 L618.72,401.28 L622.59,400.58 L626.46,399.89 L630.34,399.21 L634.22,398.53 L638.10,397.87 L641.99,397.21 L645.87,396.56 L649.76,395.91 L653.65,395.27 L657.54,394.63 L661.43,394.00 L665.32,393.37 L669.22,392.74 L673.11,392.11 L677.00,391.48 L680.90,390.86 L684.79,390.23 L688.69,389.61 L692.58,388.98 L696.47,388.35 L700.37,387.72 L704.26,387.08 L708.15,386.44 L712.04,385.80 L715.93,385.15 L719.82,384.50 L723.71,383.85 L727.59,383.19 L731.48,382.53 L735.37,381.86 L739.25,381.20 L743.14,380.52 L747.02,379.85 L750.90,379.17 L754.78,378.49 L758.66,377.80 L762.54,377.11 L766.42,376.42 L770.30,375.72 L774.18,375.02 L778.06,374.31 L781.93,373.61 L785.81,372.90 L789.68,372.18 L793.56,371.46 L797.43,370.74 L801.30,370.02 L805.17,369.29 L809.05,368.56 L812.92,367.83 L816.78,367.09 L820.65,366.35 L824.52,365.60 L828.39,364.86 L832.26,364.11 L836.12,363.35 L839.99,362.59 L843.85,361.83 L847.71,361.07 L851.58,360.30 L855.44,359.53 L859.30,358.76 L863.16,357.98 L867.02,357.20 L870.88,356.42 L874.74,355.63 L878.60,354.85 L882.45,354.05 L886.31,353.26 L890.17,352.46 L894.02,351.66 L897.88,350.86 L901.73,350.05 L905.58,349.24 L909.44,348.43 L913.29,347.61 L917.14,346.79 L920.99,345.97 L924.84,345.14 L928.69,344.32 L932.54,343.48 L936.39,342.65 L940.23,341.81 L944.08,340.98 L947.93,340.13 L951.77,339.29 L955.62,338.44 L959.46,337.59 L963.30,336.74 L967.15,335.88 L970.99,335.02 L974.83,334.16 L978.67,333.30 L982.51,332.43 L986.35,331.56 L990.19,330.69 L994.03,329.81 L997.87,328.93 L1001.70,328.05 L1005.54,327.17 L1009.38,326.29 L1013.21,325.40 L1017.05,324.51 L1020.88,323.61 L1024.72,322.72 L1028.55,321.82 L1032.38,320.92 L1036.21,320.01 L1040.05,319.11 L1043.88,318.20 L1047.71,317.29 L1051.54,316.38 L1055.37,315.46 L1059.20,314.54 L1063.02,313.62 L1066.85,312.70 L1070.68,311.77 L1074.51,310.85 L1078.33,309.92 L1082.16,308.98 L1085.98,308.05 L1089.81,307.11 L1093.63,306.17 L1097.46,305.23 L1101.28,304.29 L1105.10,303.34 L1108.92,302.39 L1112.75,301.44 L1116.57,300.49 L1120.39,299.53 L1124.21,298.58 L1128.03,297.62 L1131.85,296.66 L1135.66,295.69 L1139.48,294.73 L1143.30,293.76 L1147.12,292.79 L1150.93,291.82 L1154.75,290.84 L1158.57,289.87 L1162.38,288.89 L1166.20,287.91 L1170.01,286.93 L1173.82,285.94 L1177.64,284.96 L1181.45,283.97 L1185.26,282.98 L1189.08,281.99 L1192.89,280.99 L1196.70,280.00 L1195.75,283.86 L1194.71,287.66 L1193.60,291.42 L1192.42,295.13 L1191.18,298.81 L1189.88,302.47 L1188.54,306.11 L1187.17,309.74 L1185.77,313.37 L1184.34,317.02 L1182.90,320.68 L1181.46,324.36 L1180.01,328.08 L1178.58,331.84 L1177.16,335.65 L1175.76,339.52 L1174.37,343.42 L1172.99,347.36 L1171.59,351.31 L1170.19,355.27 L1168.75,359.23 L1167.28,363.16 L1165.77,367.07 L1164.20,370.93 L1162.57,374.74 L1160.86,378.48 L1159.08,382.15 L1157.20,385.72 L1155.22,389.19 L1153.13,392.55 L1150.93,395.79 L1148.62,398.91 L1146.19,401.91 L1143.66,404.80 L1141.04,407.59 L1138.31,410.27 L1135.50,412.85 L1132.60,415.34 L1129.61,417.74 L1126.55,420.05 L1123.41,422.27 L1120.20,424.42 L1116.92,426.49 L1113.58,428.49 L1110.19,430.42 L1106.74,432.28 L1103.23,434.09 L1099.69,435.84 L1096.10,437.54 L1092.47,439.19 L1088.81,440.79 L1085.12,442.36 L1081.41,443.89 L1077.67,445.38 L1073.92,446.85 L1070.15,448.29 L1066.38,449.71 L1062.60,451.12 L1058.81,452.50 L1055.03,453.88 L1051.24,455.24 L1047.45,456.58 L1043.66,457.91 L1039.86,459.22 L1036.06,460.52 L1032.26,461.81 L1028.45,463.08 L1024.65,464.34 L1020.84,465.58 L1017.02,466.81 L1013.21,468.03 L1009.39,469.23 L1005.57,470.43 L1001.75,471.60 L997.92,472.77 L994.09,473.93 L990.26,475.07 L986.43,476.20 L982.60,477.32 L978.76,478.42 L974.92,479.52 L971.08,480.60 L967.23,481.68 L963.38,482.74 L959.54,483.79 L955.68,484.83 L951.83,485.86 L947.98,486.88 L944.12,487.90 L940.26,488.90 L936.40,489.89 L932.53,490.87 L928.67,491.85 L924.80,492.81 L920.93,493.77 L917.06,494.71 L913.19,495.65 L909.31,496.58 L905.44,497.51 L901.56,498.42 L897.68,499.33 L893.79,500.23 L889.91,501.12 L886.03,502.01 L882.14,502.89 L878.25,503.76 L874.36,504.63 L870.47,505.49 L866.58,506.34 L862.68,507.19 L858.78,508.03 L854.89,508.86 L850.99,509.69 L847.09,510.52 L843.19,511.34 L839.28,512.15 L835.38,512.97 L831.47,513.77 L827.57,514.57 L823.66,515.37 L819.75,516.17 L815.84,516.96 L811.93,517.74 L808.02,518.52 L804.10,519.30 L800.19,520.08 L796.27,520.85 L792.36,521.62 L788.44,522.38 L784.52,523.14 L780.60,523.90 L776.68,524.65 L772.76,525.40 L768.84,526.15 L764.92,526.90 L760.99,527.64 L757.07,528.38 L753.15,529.12 L749.22,529.85 L745.29,530.58 L741.37,531.31 L737.44,532.04 L733.51,532.76 L729.58,533.48 L725.65,534.20 L721.72,534.92 L717.79,535.64 L713.86,536.35 L709.93,537.07 L706.00,537.78 L702.07,538.48 L698.13,539.19 L694.20,539.90 L690.27,540.60 L686.33,541.30 L682.40,542.01 L678.47,542.71 L674.53,543.41 L670.60,544.10 L666.66,544.80 L662.73,545.50 L658.79,546.19 L654.86,546.89 L650.92,547.58 L646.99,548.28 L643.05,548.97 L639.12,549.66 L635.18,550.36 L631.25,551.05 L627.31,551.74 L623.38,552.43 L619.44,553.12 L615.51,553.82 L611.57,554.51 L607.64,555.20 L603.71,555.89 L599.77,556.59 L595.84,557.28 L591.91,557.97 L587.97,558.67 L584.04,559.36 L580.11,560.06 L576.18,560.76 L572.24,561.46 L568.31,562.15 L564.38,562.85 L560.45,563.55 L556.52,564.25 L552.59,564.95 L548.66,565.65 L544.73,566.35 L540.80,567.04 L536.87,567.74 L532.94,568.43 L529.01,569.12 L525.08,569.82 L521.15,570.50 L517.22,571.19 L513.29,571.87 L509.36,572.56 L505.43,573.23 L501.49,573.91 L497.56,574.58 L493.63,575.25 L489.69,575.92 L485.76,576.58 L481.82,577.23 L477.89,577.89 L473.95,578.54 L470.02,579.18 L466.08,579.82 L462.14,580.45 L458.20,581.08 L454.26,581.70 L450.32,582.32 L446.37,582.93 L442.43,583.53 L438.49,584.13 L434.54,584.72 L430.59,585.30 L426.64,585.88 L422.69,586.45 L418.74,587.01 L414.79,587.57 L410.84,588.11 L406.88,588.65 L402.92,589.18 L398.96,589.70 L395.00,590.21 L391.04,590.72 L387.08,591.21 L383.11,591.69 L379.14,592.17 L375.18,592.63 L371.20,593.09 L367.23,593.53 L363.26,593.96 L359.28,594.39 L355.30,594.80 Z" fill="none" stroke="#0000ff" stroke-width="6.0" stroke-linejoin="round" stroke-linecap="round"/>
<path d="M356.50,639.10 L356.88,634.97 L357.33,630.85 L357.85,626.74 L358.45,622.65 L359.12,618.56 L359.87,614.48 L360.68,610.42 L361.57,606.38 L362.52,602.35 L363.54,598.33 L364.63,594.33 L365.79,590.35 L367.01,586.39 L368.30,582.45 L369.65,578.53 L371.06,574.63 L372.54,570.75 L374.08,566.90 L375.68,563.07 L377.34,559.26 L379.06,555.48 L380.84,551.73 L382.68,548.00 L384.58,544.30 L386.53,540.63 L388.53,536.99 L390.60,533.39 L392.71,529.81 L394.88,526.27 L397.10,522.76 L399.38,519.28 L401.70,515.84 L404.08,512.43 L406.50,509.06 L408.98,505.72 L411.51,502.42 L414.08,499.16 L416.70,495.94 L419.37,492.75 L422.08,489.60 L424.84,486.49 L427.65,483.43 L430.50,480.40 L433.39,477.41 L436.33,474.47 L439.31,471.56 L442.33,468.70 L445.39,465.89 L448.50,463.12 L451.64,460.39 L454.83,457.71 L458.05,455.07 L461.31,452.48 L464.60,449.94 L467.94,447.44 L471.30,445.00 L474.70,442.60 L478.13,440.26 L481.60,437.96 L485.10,435.72 L488.62,433.52 L492.18,431.38 L495.76,429.30 L499.38,427.27 L503.02,425.29 L506.68,423.36 L510.37,421.49 L514.09,419.67 L517.83,417.90 L521.59,416.18 L525.38,414.52 L529.18,412.90 L533.01,411.33 L536.85,409.82 L540.72,408.35 L544.60,406.93 L548.50,405.55 L552.42,404.22 L556.36,402.94 L560.30,401.71 L564.27,400.51 L568.24,399.36 L572.23,398.24 L576.23,397.16 L580.24,396.12 L584.26,395.10 L588.29,394.11 L592.33,393.14 L596.37,392.20 L600.43,391.28 L604.48,390.37 L608.54,389.49 L612.60,388.61 L616.67,387.74 L620.74,386.89 L624.81,386.04 L628.88,385.20 L632.96,384.37 L637.04,383.55 L641.11,382.72 L645.19,381.90 L649.27,381.09 L653.35,380.27 L657.43,379.46 L661.51,378.64 L665.59,377.82 L669.66,377.00 L673.74,376.18 L677.82,375.35 L681.89,374.51 L685.96,373.67 L690.03,372.82 L694.10,371.97 L698.17,371.10 L702.23,370.24 L706.30,369.36 L710.36,368.48 L714.42,367.59 L718.48,366.69 L722.54,365.79 L726.59,364.89 L730.65,363.97 L734.70,363.05 L738.75,362.13 L742.80,361.20 L746.85,360.26 L750.90,359.32 L754.94,358.37 L758.99,357.42 L763.03,356.46 L767.07,355.50 L771.11,354.53 L775.15,353.56 L779.19,352.58 L783.23,351.59 L787.26,350.60 L791.30,349.61 L795.33,348.61 L799.36,347.61 L803.39,346.60 L807.42,345.59 L811.45,344.58 L815.48,343.55 L819.50,342.53 L823.53,341.50 L827.55,340.47 L831.58,339.43 L835.60,338.39 L839.62,337.35 L843.64,336.30 L847.66,335.25 L851.68,334.19 L855.70,333.13 L859.71,332.07 L863.73,331.00 L867.74,329.94 L871.76,328.86 L875.77,327.79 L879.79,326.71 L883.80,325.63 L887.81,324.55 L891.82,323.46 L895.83,322.37 L899.84,321.28 L903.85,320.18 L907.86,319.09 L911.86,317.99 L915.87,316.89 L919.88,315.78 L923.88,314.68 L927.89,313.57 L931.89,312.46 L935.90,311.35 L939.90,310.24 L943.90,309.12 L947.91,308.01 L951.91,306.89 L955.91,305.76 L959.91,304.64 L963.91,303.51 L967.91,302.38 L971.91,301.25 L975.91,300.11 L979.90,298.97 L983.90,297.82 L987.89,296.67 L991.88,295.51 L995.87,294.35 L999.86,293.18 L1003.84,292.01 L1007.83,290.83 L1011.81,289.64 L1015.79,288.45 L1019.77,287.25 L1023.75,286.04 L1027.72,284.82 L1031.69,283.60 L1035.66,282.37 L1039.62,281.13 L1043.59,279.88 L1047.55,278.62 L1051.51,277.36 L1055.46,276.08 L1059.41,274.79 L1063.36,273.50 L1067.31,272.19 L1071.25,270.87 L1075.19,269.55 L1079.12,268.21 L1083.05,266.87 L1086.98,265.51 L1090.91,264.16 L1094.84,262.80 L1098.77,261.43 L1102.69,260.07 L1106.62,258.70 L1110.54,257.34 L1114.46,255.97 L1118.39,254.61 L1122.31,253.26 L1126.24,251.91 L1130.17,250.57 L1134.10,249.24 L1138.03,247.91 L1141.96,246.60 L1145.90,245.30 L1149.84,244.02 L1153.79,242.74 L1157.73,241.49 L1161.69,240.25 L1165.64,239.03 L1169.60,237.83 L1173.57,236.65 L1177.54,235.50 L1181.52,234.37 L1185.51,233.26 L1189.50,232.18 L1193.49,231.12 L1197.50,230.10 L1196.51,234.16 L1195.50,238.22 L1194.47,242.27 L1193.41,246.31 L1192.33,250.34 L1191.24,254.38 L1190.13,258.40 L1189.00,262.43 L1187.85,266.45 L1186.69,270.47 L1185.52,274.49 L1184.34,278.51 L1183.14,282.53 L1181.93,286.55 L1180.72,290.57 L1179.50,294.60 L1178.27,298.63 L1177.03,302.66 L1175.79,306.70 L1174.55,310.75 L1173.30,314.80 L1172.06,318.86 L1170.81,322.93 L1169.57,327.01 L1168.32,331.09 L1167.07,335.18 L1165.80,339.27 L1164.50,343.34 L1163.17,347.39 L1161.79,351.42 L1160.36,355.42 L1158.87,359.38 L1157.31,363.29 L1155.66,367.15 L1153.92,370.95 L1152.09,374.68 L1150.14,378.34 L1148.08,381.91 L1145.90,385.41 L1143.60,388.82 L1141.19,392.15 L1138.67,395.40 L1136.06,398.58 L1133.35,401.68 L1130.55,404.71 L1127.67,407.66 L1124.71,410.55 L1121.67,413.36 L1118.57,416.11 L1115.40,418.80 L1112.17,421.42 L1108.90,423.98 L1105.57,426.49 L1102.20,428.93 L1098.80,431.32 L1095.35,433.65 L1091.87,435.93 L1088.34,438.16 L1084.79,440.34 L1081.20,442.47 L1077.57,444.56 L1073.92,446.60 L1070.24,448.59 L1066.53,450.55 L1062.79,452.46 L1059.02,454.33 L1055.24,456.17 L1051.42,457.97 L1047.59,459.74 L1043.74,461.47 L1039.87,463.17 L1035.98,464.84 L1032.07,466.48 L1028.15,468.10 L1024.22,469.69 L1020.28,471.26 L1016.32,472.80 L1012.35,474.33 L1008.38,475.83 L1004.40,477.32 L1000.42,478.79 L996.43,480.25 L992.44,481.69 L988.45,483.12 L984.45,484.55 L980.46,485.96 L976.47,487.36 L972.48,488.76 L968.49,490.14 L964.50,491.52 L960.51,492.89 L956.51,494.24 L952.52,495.59 L948.53,496.93 L944.54,498.27 L940.55,499.59 L936.55,500.90 L932.56,502.21 L928.56,503.51 L924.57,504.80 L920.57,506.09 L916.57,507.36 L912.57,508.63 L908.57,509.89 L904.57,511.14 L900.57,512.39 L896.57,513.63 L892.56,514.86 L888.55,516.08 L884.54,517.30 L880.53,518.51 L876.52,519.72 L872.51,520.92 L868.49,522.11 L864.47,523.30 L860.45,524.48 L856.43,525.65 L852.41,526.82 L848.38,527.98 L844.35,529.14 L840.32,530.29 L836.29,531.43 L832.25,532.57 L828.21,533.71 L824.17,534.84 L820.13,535.96 L816.09,537.08 L812.04,538.19 L808.00,539.29 L803.95,540.40 L799.90,541.49 L795.85,542.58 L791.79,543.67 L787.73,544.75 L783.68,545.82 L779.62,546.89 L775.55,547.96 L771.49,549.02 L767.43,550.07 L763.36,551.13 L759.29,552.17 L755.22,553.21 L751.15,554.25 L747.08,555.28 L743.00,556.31 L738.93,557.33 L734.85,558.35 L730.77,559.36 L726.69,560.37 L722.61,561.38 L718.52,562.38 L714.44,563.37 L710.35,564.36 L706.27,565.35 L702.18,566.34 L698.09,567.32 L694.00,568.29 L689.90,569.26 L685.81,570.23 L681.71,571.19 L677.62,572.15 L673.52,573.11 L669.42,574.06 L665.32,575.01 L661.22,575.96 L657.12,576.90 L653.02,577.84 L648.92,578.77 L644.81,579.70 L640.71,580.63 L636.60,581.55 L632.49,582.47 L628.38,583.39 L624.27,584.30 L620.16,585.22 L616.05,586.12 L611.94,587.03 L607.83,587.93 L603.72,588.83 L599.60,589.72 L595.49,590.62 L591.37,591.51 L587.26,592.40 L583.14,593.28 L579.03,594.16 L574.91,595.04 L570.79,595.92 L566.67,596.79 L562.55,597.66 L558.43,598.53 L554.31,599.40 L550.19,600.26 L546.07,601.13 L541.95,601.99 L537.83,602.84 L533.71,603.70 L529.59,604.55 L525.46,605.40 L521.34,606.25 L517.22,607.10 L513.10,607.95 L508.97,608.79 L504.85,609.63 L500.73,610.47 L496.60,611.31 L492.48,612.14 L488.36,612.98 L484.23,613.81 L480.11,614.64 L475.98,615.47 L471.86,616.30 L467.74,617.13 L463.61,617.96 L459.49,618.78 L455.37,619.60 L451.24,620.42 L447.12,621.25 L443.00,622.07 L438.87,622.88 L434.75,623.70 L430.63,624.52 L426.51,625.33 L422.39,626.15 L418.26,626.96 L414.14,627.78 L410.02,628.59 L405.90,629.40 L401.78,630.21 L397.66,631.02 L393.54,631.83 L389.43,632.64 L385.31,633.45 L381.19,634.26 L377.08,635.07 L372.96,635.87 L368.84,636.68 L364.73,637.49 L360.61,638.30 L356.50,639.10 Z" fill="none" stroke="#00ffff" stroke-width="6.0" stroke-linejoin="round" stroke-linecap="round"/>
<line x1="280.20" y1="1270.10" x2="280.20" y2="1980.00" stroke="#000" stroke-width="3.0" stroke-linecap="butt"/>
<line x1="264.80" y1="1271.60" x2="1211.40" y2="1271.60" stroke="#000" stroke-width="3.0" stroke-linecap="butt"/>
<line x1="1211.40" y1="1271.60" x2="1211.40" y2="1986.00" stroke="#000" stroke-width="3.0" stroke-linecap="butt"/>
<line x1="264.80" y1="1971.90" x2="1212.90" y2="1971.90" stroke="#000" stroke-width="3.0" stroke-linecap="butt"/>
<line x1="264.80" y1="1388.32" x2="280.20" y2="1388.32" stroke="#000" stroke-width="3.0" stroke-linecap="butt"/>
<line x1="264.80" y1="1505.03" x2="280.20" y2="1505.03" stroke="#000" stroke-width="3.0" stroke-linecap="butt"/>
<line x1="264.80" y1="1621.75" x2="280.20" y2="1621.75" stroke="#000" stroke-width="3.0" stroke-linecap="butt"/>
<line x1="264.80" y1="1738.47" x2="280.20" y2="1738.47" stroke="#000" stroke-width="3.0" stroke-linecap="butt"/>
<line x1="264.80" y1="1855.18" x2="280.20" y2="1855.18" stroke="#000" stroke-width="3.0" stroke-linecap="butt"/>
<line x1="413.40" y1="1971.90" x2="413.40" y2="1986.00" stroke="#000" stroke-width="3.0" stroke-linecap="butt"/>
<line x1="679.00" y1="1971.90" x2="679.00" y2="1986.00" stroke="#000" stroke-width="3.0" stroke-linecap="butt"/>
<line x1="944.60" y1="1971.90" x2="944.60" y2="1986.00" stroke="#000" stroke-width="3.0" stroke-linecap="butt"/>
<line x1="546.20" y1="1971.90" x2="546.20" y2="1980.00" stroke="#000" stroke-width="3.0" stroke-linecap="butt"/>
<line x1="811.80" y1="1971.90" x2="811.80" y2="1980.00" stroke="#000" stroke-width="3.0" stroke-linecap="butt"/>
<line x1="1077.40" y1="1971.90" x2="1077.40" y2="1980.00" stroke="#000" stroke-width="3.0" stroke-linecap="butt"/>
<text transform="translate(120.06,1280.82) scale(0.9553,1)" font-size="38.42" font-weight="bold" fill="#000">6.0x10</text>
<rect x="191.48" y="1274.29" width="8.57" height="8.07" fill="#fff"/>
<rect x="205.08" y="1274.29" width="6.80" height="8.07" fill="#fff"/>
<text transform="translate(236.28,1258.18) scale(1.0516,1)" font-size="19.59" font-weight="normal" fill="#000">-3</text>
<text transform="translate(120.14,1398.01) scale(0.9171,1)" font-size="39.98" font-weight="bold" fill="#000">4.0x10</text>
<rect x="191.52" y="1391.21" width="8.56" height="8.40" fill="#fff"/>
<rect x="205.11" y="1391.21" width="6.80" height="8.40" fill="#fff"/>
<text transform="translate(236.28,1375.27) scale(1.0081,1)" font-size="20.44" font-weight="normal" fill="#000">-3</text>
<text transform="translate(120.12,1514.42) scale(0.9468,1)" font-size="38.98" font-weight="bold" fill="#000">2.0x10</text>
<rect x="191.96" y="1507.79" width="8.61" height="8.19" fill="#fff"/>
<rect x="205.64" y="1507.79" width="6.84" height="8.19" fill="#fff"/>
<text transform="translate(236.28,1492.07) scale(1.0012,1)" font-size="20.58" font-weight="normal" fill="#000">-3</text>
<text transform="translate(203.45,1626.62) scale(0.9525,1)" font-size="38.56" font-weight="bold" fill="#000">0.0</text>
<rect x="96.60" y="1735.40" width="20.50" height="4.00" fill="#1a1a1a"/>
<text transform="translate(119.51,1746.91) scale(0.9426,1)" font-size="39.41" font-weight="bold" fill="#000">2.0x10</text>
<rect x="191.81" y="1740.21" width="8.67" height="8.28" fill="#fff"/>
<rect x="205.57" y="1740.21" width="6.89" height="8.28" fill="#fff"/>
<text transform="translate(236.38,1724.17) scale(1.0081,1)" font-size="20.44" font-weight="normal" fill="#000">-3</text>
<rect x="96.60" y="1851.50" width="20.50" height="4.00" fill="#1a1a1a"/>
<text transform="translate(120.24,1863.41) scale(0.9230,1)" font-size="39.98" font-weight="bold" fill="#000">4.0x10</text>
<rect x="192.07" y="1856.61" width="8.61" height="8.40" fill="#fff"/>
<rect x="205.74" y="1856.61" width="6.84" height="8.40" fill="#fff"/>
<text transform="translate(236.38,1839.98) scale(1.0592,1)" font-size="19.45" font-weight="normal" fill="#000">-3</text>
<rect x="96.60" y="1960.60" width="21.90" height="4.00" fill="#1a1a1a"/>
<text transform="translate(122.21,1971.83) scale(0.9349,1)" font-size="37.57" font-weight="bold" fill="#000">6.0x10</text>
<rect x="190.57" y="1965.44" width="8.20" height="7.89" fill="#fff"/>
<rect x="203.59" y="1965.44" width="6.51" height="7.89" fill="#fff"/>
<text transform="translate(231.72,1950.48) scale(1.0143,1)" font-size="19.45" font-weight="normal" fill="#000">-3</text>
<rect x="373.60" y="2011.40" width="17.20" height="4.00" fill="#1a1a1a"/>
<text transform="translate(391.99,2024.85) scale(0.8369,1)" font-size="45.48" font-weight="bold" fill="#000">0.4</text>
<text transform="translate(652.19,2024.85) scale(0.8378,1)" font-size="45.48" font-weight="bold" fill="#000">0.0</text>
<text transform="translate(919.41,2024.85) scale(0.8287,1)" font-size="45.48" font-weight="bold" fill="#000">0.4</text>
<text transform="translate(1185.68,2024.85) scale(0.8446,1)" font-size="45.48" font-weight="bold" fill="#000">0.8</text>
<text transform="translate(599.92,2097.70) scale(0.9943,1)" font-size="55.52" font-weight="bold" fill="#000">Voltage (V)</text>
<text transform="translate(81.86,1776.79) rotate(-90) scale(1.0147,1)" font-size="55.14" font-weight="bold" fill="#000">Current (A)</text>
<text transform="translate(1106.13,1919.54) scale(0.9477,1)" font-size="69.20" font-weight="bold" fill="#000">(b)</text>
<line x1="331.80" y1="1303.10" x2="407.20" y2="1303.10" stroke="#ff0080" stroke-width="6.0" stroke-linecap="round"/>
<text transform="translate(426.29,1313.30) scale(1.0681,1)" font-size="30.65" font-weight="bold" fill="#000">5 mV/s</text>
<line x1="331.80" y1="1346.20" x2="407.20" y2="1346.20" stroke="#008000" stroke-width="6.0" stroke-linecap="round"/>
<text transform="translate(425.62,1356.20) scale(1.0756,1)" font-size="30.65" font-weight="bold" fill="#000">10 mV/s</text>
<rect x="425.62" y="1350.99" width="7.69" height="6.44" fill="#fff"/>
<rect x="437.84" y="1350.99" width="6.11" height="6.44" fill="#fff"/>
<line x1="331.80" y1="1388.90" x2="407.20" y2="1388.90" stroke="#ff0000" stroke-width="6.0" stroke-linecap="round"/>
<text transform="translate(425.25,1399.49) scale(1.0593,1)" font-size="31.21" font-weight="bold" fill="#000">20 mV/s</text>
<line x1="331.80" y1="1431.50" x2="407.20" y2="1431.50" stroke="#00ff00" stroke-width="6.0" stroke-linecap="round"/>
<text transform="translate(426.29,1442.49) scale(1.0505,1)" font-size="31.21" font-weight="bold" fill="#000">50 mV/s</text>
<line x1="331.80" y1="1473.40" x2="407.20" y2="1473.40" stroke="#0000ff" stroke-width="6.0" stroke-linecap="round"/>
<text transform="translate(425.62,1485.39) scale(1.0280,1)" font-size="32.06" font-weight="bold" fill="#000">100 mV/s</text>
<rect x="425.62" y="1479.94" width="7.69" height="6.73" fill="#fff"/>
<rect x="437.84" y="1479.94" width="6.11" height="6.73" fill="#fff"/>
<line x1="331.80" y1="1515.90" x2="407.20" y2="1515.90" stroke="#00ffff" stroke-width="6.0" stroke-linecap="round"/>
<text transform="translate(425.25,1528.29) scale(1.0307,1)" font-size="32.06" font-weight="bold" fill="#000">200 mV/s</text>
<line x1="401.60" y1="1621.90" x2="1145.00" y2="1621.90" stroke="#00ffff" stroke-width="6.2" stroke-linecap="round"/>
<line x1="280.20" y1="1271.60" x2="662.20" y2="1029.80" stroke="#444" stroke-width="1.4" stroke-linecap="butt"/>
<line x1="1211.40" y1="1971.90" x2="1456.50" y2="1588.50" stroke="#444" stroke-width="1.4" stroke-linecap="butt"/>
<rect x="662.2" y="1029.8" width="794.3" height="558.7" fill="#fff" stroke="#111" stroke-width="3.2"/>
<line x1="770.40" y1="1061.90" x2="770.40" y2="1502.00" stroke="#222" stroke-width="1.6" stroke-linecap="butt"/>
<line x1="760.80" y1="1062.90" x2="1420.00" y2="1062.90" stroke="#2a2a2a" stroke-width="2.2" stroke-linecap="butt"/>
<line x1="1419.00" y1="1061.90" x2="1419.00" y2="1507.00" stroke="#2a2a2a" stroke-width="1.9" stroke-linecap="butt"/>
<line x1="760.80" y1="1497.30" x2="1420.00" y2="1497.30" stroke="#3a3a3a" stroke-width="2.4" stroke-linecap="butt"/>
<line x1="760.80" y1="1117.20" x2="770.40" y2="1117.20" stroke="#2a2a2a" stroke-width="2.0" stroke-linecap="butt"/>
<line x1="760.80" y1="1171.50" x2="770.40" y2="1171.50" stroke="#2a2a2a" stroke-width="2.0" stroke-linecap="butt"/>
<line x1="760.80" y1="1225.80" x2="770.40" y2="1225.80" stroke="#2a2a2a" stroke-width="2.0" stroke-linecap="butt"/>
<line x1="760.80" y1="1280.10" x2="770.40" y2="1280.10" stroke="#2a2a2a" stroke-width="2.0" stroke-linecap="butt"/>
<line x1="760.80" y1="1334.40" x2="770.40" y2="1334.40" stroke="#2a2a2a" stroke-width="2.0" stroke-linecap="butt"/>
<line x1="760.80" y1="1388.70" x2="770.40" y2="1388.70" stroke="#2a2a2a" stroke-width="2.0" stroke-linecap="butt"/>
<line x1="760.80" y1="1443.00" x2="770.40" y2="1443.00" stroke="#2a2a2a" stroke-width="2.0" stroke-linecap="butt"/>
<line x1="863.30" y1="1497.30" x2="863.30" y2="1507.00" stroke="#2a2a2a" stroke-width="1.8" stroke-linecap="butt"/>
<line x1="1048.50" y1="1497.30" x2="1048.50" y2="1507.00" stroke="#2a2a2a" stroke-width="1.8" stroke-linecap="butt"/>
<line x1="1233.70" y1="1497.30" x2="1233.70" y2="1507.00" stroke="#2a2a2a" stroke-width="1.8" stroke-linecap="butt"/>
<line x1="955.90" y1="1497.30" x2="955.90" y2="1502.00" stroke="#2a2a2a" stroke-width="1.8" stroke-linecap="butt"/>
<line x1="1141.10" y1="1497.30" x2="1141.10" y2="1502.00" stroke="#2a2a2a" stroke-width="1.8" stroke-linecap="butt"/>
<line x1="1326.30" y1="1497.30" x2="1326.30" y2="1502.00" stroke="#2a2a2a" stroke-width="1.8" stroke-linecap="butt"/>
<text transform="translate(723.48,1068.50) scale(1.2731,1)" font-size="20.76" font-weight="bold" fill="#000">20</text>
<text transform="translate(723.35,1122.39) scale(1.1966,1)" font-size="21.93" font-weight="bold" fill="#000">15</text>
<rect x="723.35" y="1118.66" width="6.12" height="4.60" fill="#fff"/>
<rect x="733.07" y="1118.66" width="4.86" height="4.60" fill="#fff"/>
<text transform="translate(723.64,1177.00) scale(1.2658,1)" font-size="20.76" font-weight="bold" fill="#000">10</text>
<rect x="723.64" y="1173.47" width="6.13" height="4.36" fill="#fff"/>
<rect x="733.38" y="1173.47" width="4.87" height="4.36" fill="#fff"/>
<text transform="translate(739.27,1230.49) scale(1.1033,1)" font-size="21.50" font-weight="bold" fill="#000">5</text>
<text transform="translate(738.69,1286.08) scale(1.1473,1)" font-size="22.18" font-weight="bold" fill="#000">0</text>
<rect x="729.30" y="1331.90" width="9.70" height="2.60" fill="#1a1a1a"/>
<text transform="translate(743.30,1339.38) scale(1.0183,1)" font-size="22.50" font-weight="bold" fill="#000">5</text>
<rect x="718.80" y="1387.20" width="9.80" height="2.80" fill="#1a1a1a"/>
<text transform="translate(728.61,1394.76) scale(1.0174,1)" font-size="24.86" font-weight="bold" fill="#000">10</text>
<rect x="728.61" y="1390.53" width="5.90" height="5.22" fill="#fff"/>
<rect x="737.98" y="1390.53" width="4.69" height="5.22" fill="#fff"/>
<rect x="718.80" y="1441.80" width="9.80" height="2.80" fill="#1a1a1a"/>
<text transform="translate(728.95,1448.67) scale(1.0370,1)" font-size="23.79" font-weight="bold" fill="#000">15</text>
<rect x="728.95" y="1444.62" width="5.76" height="5.00" fill="#fff"/>
<rect x="738.09" y="1444.62" width="4.57" height="5.00" fill="#fff"/>
<rect x="717.20" y="1495.70" width="9.40" height="2.80" fill="#1a1a1a"/>
<text transform="translate(728.73,1503.87) scale(1.0739,1)" font-size="23.45" font-weight="bold" fill="#000">20</text>
<rect x="839.40" y="1527.30" width="11.10" height="3.00" fill="#1a1a1a"/>
<text transform="translate(851.28,1536.23) scale(0.9244,1)" font-size="27.82" font-weight="bold" fill="#000">0.4</text>
<text transform="translate(1029.53,1536.23) scale(0.9742,1)" font-size="27.82" font-weight="bold" fill="#000">0.0</text>
<text transform="translate(1213.78,1536.23) scale(0.9244,1)" font-size="27.82" font-weight="bold" fill="#000">0.4</text>
<text transform="translate(1396.47,1536.23) scale(0.9394,1)" font-size="27.82" font-weight="bold" fill="#000">0.8</text>
<text transform="translate(993.34,1575.10) scale(1.2355,1)" font-size="30.96" font-weight="bold" fill="#000">Voltage (V)</text>
<text transform="translate(698.74,1384.83) rotate(-90) scale(1.0000,1)" font-size="34.97" font-weight="bold" fill="#000">Current (μA)</text>
<line x1="806.45" y1="1081.60" x2="858.95" y2="1081.60" stroke="#ff0080" stroke-width="3.3" stroke-linecap="round"/>
<text transform="translate(872.51,1088.90) scale(1.0920,1)" font-size="20.48" font-weight="bold" fill="#000">5 mV/s</text>
<line x1="806.80" y1="1109.00" x2="858.60" y2="1109.00" stroke="#008000" stroke-width="4.0" stroke-linecap="round"/>
<text transform="translate(872.39,1115.20) scale(1.1135,1)" font-size="20.06" font-weight="bold" fill="#000">10 mV/s</text>
<rect x="872.39" y="1111.79" width="5.21" height="4.21" fill="#fff"/>
<rect x="880.67" y="1111.79" width="4.14" height="4.21" fill="#fff"/>
<line x1="806.30" y1="1134.70" x2="859.10" y2="1134.70" stroke="#ff0000" stroke-width="3.0" stroke-linecap="round"/>
<text transform="translate(872.43,1140.61) scale(1.1708,1)" font-size="19.07" font-weight="bold" fill="#000">20 mV/s</text>
<line x1="806.80" y1="1161.30" x2="858.60" y2="1161.30" stroke="#00ff00" stroke-width="4.0" stroke-linecap="round"/>
<text transform="translate(872.51,1168.89) scale(1.0456,1)" font-size="21.33" font-weight="bold" fill="#000">50 mV/s</text>
<line x1="806.30" y1="1188.40" x2="859.10" y2="1188.40" stroke="#0000ff" stroke-width="3.0" stroke-linecap="round"/>
<text transform="translate(872.37,1194.61) scale(1.1637,1)" font-size="19.49" font-weight="bold" fill="#000">100 mV/s</text>
<rect x="872.37" y="1191.30" width="5.29" height="4.09" fill="#fff"/>
<rect x="880.78" y="1191.30" width="4.21" height="4.09" fill="#fff"/>
<line x1="807.05" y1="1214.70" x2="858.35" y2="1214.70" stroke="#00ffff" stroke-width="4.5" stroke-linecap="round"/>
<text transform="translate(872.41,1220.60) scale(1.1147,1)" font-size="20.34" font-weight="bold" fill="#000">200 mV/s</text>
<path d="M854.70,1286.40 L856.81,1286.09 L858.93,1285.81 L861.04,1285.53 L863.16,1285.25 L865.28,1284.99 L867.40,1284.74 L869.53,1284.49 L871.65,1284.25 L873.78,1284.02 L875.91,1283.79 L878.04,1283.58 L880.17,1283.37 L882.30,1283.17 L884.44,1282.97 L886.57,1282.79 L888.71,1282.60 L890.85,1282.43 L892.99,1282.26 L895.13,1282.10 L897.27,1281.94 L899.42,1281.79 L901.56,1281.65 L903.71,1281.51 L905.86,1281.38 L908.00,1281.25 L910.15,1281.13 L912.30,1281.01 L914.46,1280.90 L916.61,1280.79 L918.76,1280.69 L920.92,1280.59 L923.07,1280.49 L925.23,1280.40 L927.39,1280.32 L929.55,1280.23 L931.70,1280.16 L933.86,1280.08 L936.02,1280.01 L938.19,1279.94 L940.35,1279.87 L942.51,1279.81 L944.67,1279.75 L946.84,1279.70 L949.00,1279.64 L951.16,1279.59 L953.33,1279.54 L955.49,1279.49 L957.66,1279.45 L959.83,1279.40 L961.99,1279.36 L964.16,1279.32 L966.33,1279.28 L968.49,1279.24 L970.66,1279.20 L972.83,1279.17 L975.00,1279.13 L977.17,1279.10 L979.33,1279.07 L981.50,1279.03 L983.67,1279.00 L985.84,1278.97 L988.01,1278.94 L990.18,1278.91 L992.35,1278.88 L994.52,1278.86 L996.69,1278.83 L998.86,1278.80 L1001.03,1278.78 L1003.20,1278.75 L1005.37,1278.73 L1007.54,1278.70 L1009.71,1278.68 L1011.88,1278.66 L1014.05,1278.63 L1016.22,1278.61 L1018.39,1278.59 L1020.56,1278.56 L1022.73,1278.54 L1024.91,1278.52 L1027.08,1278.50 L1029.25,1278.48 L1031.42,1278.45 L1033.59,1278.43 L1035.76,1278.41 L1037.93,1278.39 L1040.10,1278.37 L1042.28,1278.35 L1044.45,1278.32 L1046.62,1278.30 L1048.79,1278.28 L1050.96,1278.25 L1053.13,1278.23 L1055.31,1278.21 L1057.48,1278.18 L1059.65,1278.16 L1061.82,1278.13 L1063.99,1278.11 L1066.16,1278.08 L1068.33,1278.05 L1070.50,1278.03 L1072.68,1278.00 L1074.85,1277.97 L1077.02,1277.94 L1079.19,1277.91 L1081.36,1277.88 L1083.53,1277.85 L1085.70,1277.81 L1087.87,1277.78 L1090.04,1277.75 L1092.21,1277.71 L1094.38,1277.67 L1096.55,1277.63 L1098.72,1277.60 L1100.89,1277.56 L1103.06,1277.51 L1105.23,1277.47 L1107.40,1277.43 L1109.57,1277.38 L1111.74,1277.34 L1113.90,1277.29 L1116.07,1277.24 L1118.24,1277.20 L1120.41,1277.15 L1122.58,1277.10 L1124.75,1277.05 L1126.91,1277.00 L1129.08,1276.94 L1131.25,1276.89 L1133.42,1276.84 L1135.59,1276.78 L1137.75,1276.73 L1139.92,1276.67 L1142.09,1276.61 L1144.25,1276.56 L1146.42,1276.50 L1148.59,1276.44 L1150.76,1276.38 L1152.92,1276.32 L1155.09,1276.26 L1157.26,1276.20 L1159.42,1276.14 L1161.59,1276.08 L1163.76,1276.02 L1165.92,1275.96 L1168.09,1275.90 L1170.25,1275.84 L1172.42,1275.77 L1174.59,1275.71 L1176.75,1275.65 L1178.92,1275.59 L1181.08,1275.52 L1183.25,1275.46 L1185.42,1275.40 L1187.58,1275.33 L1189.75,1275.27 L1191.91,1275.21 L1194.08,1275.14 L1196.25,1275.08 L1198.41,1275.01 L1200.58,1274.95 L1202.74,1274.89 L1204.91,1274.82 L1207.07,1274.76 L1209.24,1274.70 L1211.40,1274.64 L1213.57,1274.57 L1215.74,1274.51 L1217.90,1274.45 L1220.07,1274.39 L1222.23,1274.33 L1224.40,1274.27 L1226.56,1274.21 L1228.73,1274.15 L1230.89,1274.09 L1233.06,1274.03 L1235.23,1273.97 L1237.39,1273.91 L1239.56,1273.85 L1241.72,1273.80 L1243.89,1273.74 L1246.05,1273.68 L1248.22,1273.63 L1250.38,1273.57 L1252.55,1273.52 L1254.72,1273.47 L1256.88,1273.42 L1259.05,1273.36 L1261.21,1273.31 L1263.38,1273.26 L1265.55,1273.21 L1267.71,1273.17 L1269.88,1273.12 L1272.04,1273.07 L1274.21,1273.03 L1276.38,1272.98 L1278.54,1272.94 L1280.71,1272.90 L1282.88,1272.86 L1285.04,1272.82 L1287.21,1272.78 L1289.38,1272.74 L1291.54,1272.70 L1293.71,1272.67 L1295.88,1272.63 L1298.04,1272.60 L1300.21,1272.57 L1302.38,1272.54 L1304.55,1272.51 L1306.71,1272.48 L1308.88,1272.45 L1311.05,1272.43 L1313.22,1272.41 L1315.39,1272.38 L1317.55,1272.36 L1319.72,1272.34 L1321.89,1272.33 L1324.06,1272.31 L1326.23,1272.30 L1328.40,1272.28 L1330.56,1272.27 L1332.73,1272.26 L1334.90,1272.25 L1337.07,1272.25 L1339.24,1272.24 L1341.41,1272.24 L1343.58,1272.24 L1345.75,1272.24 L1347.92,1272.24 L1350.09,1272.25 L1352.26,1272.25 L1354.43,1272.26 L1356.60,1272.27 L1358.77,1272.28 L1360.94,1272.30 L1363.11,1272.32 L1365.29,1272.33 L1367.46,1272.35 L1369.63,1272.38 L1371.80,1272.40 L1369.64,1272.57 L1367.49,1272.74 L1365.33,1272.90 L1363.17,1273.06 L1361.02,1273.21 L1358.86,1273.37 L1356.70,1273.52 L1354.54,1273.68 L1352.39,1273.83 L1350.23,1273.98 L1348.07,1274.13 L1345.91,1274.27 L1343.75,1274.42 L1341.60,1274.56 L1339.44,1274.70 L1337.28,1274.84 L1335.12,1274.98 L1332.96,1275.12 L1330.80,1275.25 L1328.64,1275.39 L1326.49,1275.52 L1324.33,1275.65 L1322.17,1275.78 L1320.01,1275.91 L1317.85,1276.04 L1315.69,1276.16 L1313.53,1276.28 L1311.37,1276.41 L1309.21,1276.53 L1307.05,1276.65 L1304.89,1276.77 L1302.73,1276.88 L1300.57,1277.00 L1298.41,1277.11 L1296.25,1277.22 L1294.09,1277.34 L1291.93,1277.45 L1289.77,1277.55 L1287.61,1277.66 L1285.45,1277.77 L1283.28,1277.87 L1281.12,1277.98 L1278.96,1278.08 L1276.80,1278.18 L1274.64,1278.28 L1272.48,1278.38 L1270.32,1278.48 L1268.16,1278.57 L1265.99,1278.67 L1263.83,1278.76 L1261.67,1278.85 L1259.51,1278.94 L1257.35,1279.03 L1255.18,1279.12 L1253.02,1279.21 L1250.86,1279.30 L1248.70,1279.38 L1246.54,1279.47 L1244.37,1279.55 L1242.21,1279.63 L1240.05,1279.71 L1237.89,1279.79 L1235.72,1279.87 L1233.56,1279.95 L1231.40,1280.03 L1229.23,1280.10 L1227.07,1280.18 L1224.91,1280.25 L1222.74,1280.32 L1220.58,1280.40 L1218.42,1280.47 L1216.25,1280.54 L1214.09,1280.61 L1211.93,1280.67 L1209.76,1280.74 L1207.60,1280.81 L1205.44,1280.87 L1203.27,1280.94 L1201.11,1281.00 L1198.95,1281.06 L1196.78,1281.12 L1194.62,1281.18 L1192.45,1281.24 L1190.29,1281.30 L1188.13,1281.36 L1185.96,1281.42 L1183.80,1281.47 L1181.63,1281.53 L1179.47,1281.58 L1177.30,1281.64 L1175.14,1281.69 L1172.98,1281.74 L1170.81,1281.79 L1168.65,1281.84 L1166.48,1281.89 L1164.32,1281.94 L1162.15,1281.99 L1159.99,1282.04 L1157.82,1282.09 L1155.66,1282.13 L1153.49,1282.18 L1151.33,1282.22 L1149.16,1282.27 L1147.00,1282.31 L1144.83,1282.36 L1142.67,1282.40 L1140.50,1282.44 L1138.34,1282.48 L1136.17,1282.52 L1134.01,1282.56 L1131.84,1282.60 L1129.68,1282.64 L1127.51,1282.68 L1125.35,1282.72 L1123.18,1282.75 L1121.02,1282.79 L1118.85,1282.83 L1116.68,1282.86 L1114.52,1282.90 L1112.35,1282.93 L1110.19,1282.97 L1108.02,1283.00 L1105.86,1283.03 L1103.69,1283.07 L1101.53,1283.10 L1099.36,1283.13 L1097.19,1283.16 L1095.03,1283.19 L1092.86,1283.22 L1090.70,1283.25 L1088.53,1283.28 L1086.36,1283.31 L1084.20,1283.34 L1082.03,1283.37 L1079.87,1283.40 L1077.70,1283.43 L1075.54,1283.45 L1073.37,1283.48 L1071.20,1283.51 L1069.04,1283.53 L1066.87,1283.56 L1064.71,1283.59 L1062.54,1283.61 L1060.37,1283.64 L1058.21,1283.66 L1056.04,1283.69 L1053.88,1283.71 L1051.71,1283.74 L1049.54,1283.76 L1047.38,1283.79 L1045.21,1283.81 L1043.05,1283.84 L1040.88,1283.86 L1038.71,1283.88 L1036.55,1283.91 L1034.38,1283.93 L1032.22,1283.95 L1030.05,1283.98 L1027.89,1284.00 L1025.72,1284.02 L1023.55,1284.05 L1021.39,1284.07 L1019.22,1284.09 L1017.06,1284.11 L1014.89,1284.14 L1012.72,1284.16 L1010.56,1284.18 L1008.39,1284.21 L1006.23,1284.23 L1004.06,1284.25 L1001.89,1284.27 L999.73,1284.30 L997.56,1284.32 L995.40,1284.34 L993.23,1284.36 L991.07,1284.39 L988.90,1284.41 L986.73,1284.43 L984.57,1284.46 L982.40,1284.48 L980.24,1284.50 L978.07,1284.53 L975.91,1284.55 L973.74,1284.57 L971.58,1284.60 L969.41,1284.62 L967.24,1284.65 L965.08,1284.67 L962.91,1284.70 L960.75,1284.72 L958.58,1284.75 L956.42,1284.77 L954.25,1284.80 L952.09,1284.82 L949.92,1284.85 L947.76,1284.87 L945.59,1284.90 L943.43,1284.93 L941.26,1284.95 L939.10,1284.98 L936.93,1285.01 L934.77,1285.04 L932.60,1285.07 L930.44,1285.10 L928.27,1285.12 L926.11,1285.15 L923.94,1285.18 L921.78,1285.21 L919.61,1285.25 L917.45,1285.28 L915.28,1285.31 L913.12,1285.34 L910.96,1285.37 L908.79,1285.41 L906.63,1285.44 L904.46,1285.47 L902.30,1285.51 L900.13,1285.54 L897.97,1285.58 L895.81,1285.61 L893.64,1285.65 L891.48,1285.69 L889.31,1285.72 L887.15,1285.76 L884.99,1285.80 L882.82,1285.84 L880.66,1285.88 L878.50,1285.92 L876.33,1285.96 L874.17,1286.00 L872.01,1286.04 L869.84,1286.09 L867.68,1286.13 L865.52,1286.17 L863.35,1286.22 L861.19,1286.26 L859.03,1286.31 L856.86,1286.36 L854.70,1286.40 Z" fill="none" stroke="#008000" stroke-width="3.2" stroke-linejoin="round" stroke-linecap="round"/>
<path d="M854.70,1280.20 L856.86,1280.18 L859.03,1280.15 L861.19,1280.13 L863.36,1280.10 L865.52,1280.08 L867.69,1280.06 L869.85,1280.03 L872.02,1280.01 L874.18,1279.99 L876.35,1279.96 L878.51,1279.94 L880.68,1279.92 L882.84,1279.90 L885.01,1279.88 L887.17,1279.86 L889.34,1279.83 L891.50,1279.81 L893.67,1279.79 L895.83,1279.77 L898.00,1279.75 L900.16,1279.73 L902.33,1279.71 L904.49,1279.69 L906.65,1279.67 L908.82,1279.65 L910.98,1279.63 L913.15,1279.62 L915.31,1279.60 L917.48,1279.58 L919.64,1279.56 L921.81,1279.54 L923.97,1279.53 L926.14,1279.51 L928.30,1279.49 L930.47,1279.47 L932.63,1279.46 L934.80,1279.44 L936.96,1279.42 L939.13,1279.41 L941.29,1279.39 L943.46,1279.37 L945.62,1279.36 L947.79,1279.34 L949.95,1279.33 L952.12,1279.31 L954.28,1279.30 L956.45,1279.28 L958.61,1279.27 L960.77,1279.25 L962.94,1279.24 L965.10,1279.22 L967.27,1279.21 L969.43,1279.20 L971.60,1279.18 L973.76,1279.17 L975.93,1279.16 L978.09,1279.14 L980.26,1279.13 L982.42,1279.12 L984.59,1279.10 L986.75,1279.09 L988.92,1279.08 L991.08,1279.07 L993.25,1279.06 L995.41,1279.04 L997.58,1279.03 L999.74,1279.02 L1001.91,1279.01 L1004.07,1279.00 L1006.24,1278.99 L1008.40,1278.98 L1010.57,1278.97 L1012.73,1278.96 L1014.90,1278.95 L1017.06,1278.94 L1019.23,1278.93 L1021.39,1278.92 L1023.56,1278.91 L1025.72,1278.90 L1027.88,1278.89 L1030.05,1278.88 L1032.21,1278.87 L1034.38,1278.86 L1036.54,1278.85 L1038.71,1278.84 L1040.87,1278.83 L1043.04,1278.83 L1045.20,1278.82 L1047.37,1278.81 L1049.53,1278.80 L1051.70,1278.79 L1053.86,1278.79 L1056.03,1278.78 L1058.19,1278.77 L1060.36,1278.76 L1062.52,1278.76 L1064.69,1278.75 L1066.85,1278.74 L1069.02,1278.74 L1071.18,1278.73 L1073.35,1278.72 L1075.51,1278.72 L1077.68,1278.71 L1079.84,1278.71 L1082.01,1278.70 L1084.17,1278.69 L1086.34,1278.69 L1088.50,1278.68 L1090.67,1278.68 L1092.83,1278.67 L1095.00,1278.67 L1097.16,1278.66 L1099.33,1278.66 L1101.49,1278.65 L1103.65,1278.65 L1105.82,1278.64 L1107.98,1278.64 L1110.15,1278.63 L1112.31,1278.63 L1114.48,1278.63 L1116.64,1278.62 L1118.81,1278.62 L1120.97,1278.61 L1123.14,1278.61 L1125.30,1278.61 L1127.47,1278.60 L1129.63,1278.60 L1131.80,1278.60 L1133.96,1278.59 L1136.13,1278.59 L1138.29,1278.59 L1140.46,1278.58 L1142.62,1278.58 L1144.79,1278.58 L1146.95,1278.58 L1149.12,1278.57 L1151.28,1278.57 L1153.45,1278.57 L1155.61,1278.57 L1157.78,1278.56 L1159.94,1278.56 L1162.11,1278.56 L1164.27,1278.56 L1166.44,1278.56 L1168.60,1278.55 L1170.77,1278.55 L1172.93,1278.55 L1175.10,1278.55 L1177.26,1278.55 L1179.43,1278.55 L1181.59,1278.54 L1183.76,1278.54 L1185.92,1278.54 L1188.09,1278.54 L1190.25,1278.54 L1192.41,1278.54 L1194.58,1278.54 L1196.74,1278.54 L1198.91,1278.54 L1201.07,1278.54 L1203.24,1278.54 L1205.40,1278.53 L1207.57,1278.53 L1209.73,1278.53 L1211.90,1278.53 L1214.06,1278.53 L1216.23,1278.53 L1218.39,1278.53 L1220.56,1278.53 L1222.72,1278.53 L1224.89,1278.53 L1227.05,1278.53 L1229.22,1278.53 L1231.38,1278.53 L1233.55,1278.53 L1235.71,1278.53 L1237.88,1278.53 L1240.04,1278.53 L1242.21,1278.53 L1244.37,1278.53 L1246.54,1278.53 L1248.70,1278.54 L1250.87,1278.54 L1253.03,1278.54 L1255.20,1278.54 L1257.36,1278.54 L1259.53,1278.54 L1261.69,1278.54 L1263.86,1278.54 L1266.02,1278.54 L1268.19,1278.54 L1270.35,1278.54 L1272.52,1278.54 L1274.68,1278.54 L1276.85,1278.55 L1279.01,1278.55 L1281.18,1278.55 L1283.34,1278.55 L1285.50,1278.55 L1287.67,1278.55 L1289.83,1278.55 L1292.00,1278.55 L1294.16,1278.55 L1296.33,1278.56 L1298.49,1278.56 L1300.66,1278.56 L1302.82,1278.56 L1304.99,1278.56 L1307.15,1278.56 L1309.32,1278.56 L1311.48,1278.56 L1313.65,1278.57 L1315.81,1278.57 L1317.98,1278.57 L1320.14,1278.57 L1322.31,1278.57 L1324.47,1278.57 L1326.64,1278.57 L1328.80,1278.57 L1330.97,1278.58 L1333.13,1278.58 L1335.30,1278.58 L1337.46,1278.58 L1339.63,1278.58 L1341.79,1278.58 L1343.96,1278.58 L1346.12,1278.58 L1348.29,1278.59 L1350.45,1278.59 L1352.62,1278.59 L1354.78,1278.59 L1356.95,1278.59 L1359.11,1278.59 L1361.28,1278.59 L1363.44,1278.60 L1365.61,1278.60 L1367.77,1278.60 L1369.94,1278.60 L1372.10,1278.60 L1369.94,1278.65 L1367.77,1278.70 L1365.61,1278.75 L1363.44,1278.80 L1361.28,1278.85 L1359.11,1278.89 L1356.95,1278.94 L1354.78,1278.99 L1352.62,1279.03 L1350.45,1279.08 L1348.29,1279.12 L1346.13,1279.17 L1343.96,1279.21 L1341.80,1279.25 L1339.63,1279.30 L1337.47,1279.34 L1335.30,1279.38 L1333.14,1279.42 L1330.97,1279.46 L1328.81,1279.50 L1326.64,1279.54 L1324.48,1279.58 L1322.32,1279.62 L1320.15,1279.65 L1317.99,1279.69 L1315.82,1279.73 L1313.66,1279.76 L1311.49,1279.80 L1309.33,1279.83 L1307.16,1279.87 L1305.00,1279.90 L1302.83,1279.93 L1300.67,1279.97 L1298.50,1280.00 L1296.34,1280.03 L1294.17,1280.06 L1292.01,1280.10 L1289.85,1280.13 L1287.68,1280.16 L1285.52,1280.19 L1283.35,1280.21 L1281.19,1280.24 L1279.02,1280.27 L1276.86,1280.30 L1274.69,1280.33 L1272.53,1280.35 L1270.36,1280.38 L1268.20,1280.41 L1266.03,1280.43 L1263.87,1280.46 L1261.70,1280.48 L1259.54,1280.50 L1257.37,1280.53 L1255.21,1280.55 L1253.04,1280.57 L1250.88,1280.60 L1248.72,1280.62 L1246.55,1280.64 L1244.39,1280.66 L1242.22,1280.68 L1240.06,1280.70 L1237.89,1280.72 L1235.73,1280.74 L1233.56,1280.76 L1231.40,1280.78 L1229.23,1280.80 L1227.07,1280.82 L1224.90,1280.83 L1222.74,1280.85 L1220.57,1280.87 L1218.41,1280.88 L1216.24,1280.90 L1214.08,1280.92 L1211.91,1280.93 L1209.75,1280.95 L1207.58,1280.96 L1205.42,1280.98 L1203.25,1280.99 L1201.09,1281.00 L1198.92,1281.02 L1196.76,1281.03 L1194.59,1281.04 L1192.43,1281.05 L1190.27,1281.07 L1188.10,1281.08 L1185.94,1281.09 L1183.77,1281.10 L1181.61,1281.11 L1179.44,1281.12 L1177.28,1281.13 L1175.11,1281.14 L1172.95,1281.15 L1170.78,1281.16 L1168.62,1281.17 L1166.45,1281.17 L1164.29,1281.18 L1162.12,1281.19 L1159.96,1281.20 L1157.79,1281.20 L1155.63,1281.21 L1153.46,1281.22 L1151.30,1281.22 L1149.13,1281.23 L1146.97,1281.24 L1144.80,1281.24 L1142.64,1281.25 L1140.47,1281.25 L1138.31,1281.26 L1136.14,1281.26 L1133.98,1281.27 L1131.81,1281.27 L1129.65,1281.27 L1127.48,1281.28 L1125.32,1281.28 L1123.15,1281.28 L1120.99,1281.28 L1118.82,1281.29 L1116.66,1281.29 L1114.49,1281.29 L1112.33,1281.29 L1110.16,1281.29 L1108.00,1281.30 L1105.83,1281.30 L1103.67,1281.30 L1101.50,1281.30 L1099.34,1281.30 L1097.17,1281.30 L1095.01,1281.30 L1092.84,1281.30 L1090.68,1281.30 L1088.51,1281.30 L1086.35,1281.30 L1084.18,1281.30 L1082.02,1281.30 L1079.85,1281.29 L1077.69,1281.29 L1075.52,1281.29 L1073.36,1281.29 L1071.19,1281.29 L1069.03,1281.29 L1066.86,1281.28 L1064.70,1281.28 L1062.53,1281.28 L1060.37,1281.28 L1058.20,1281.27 L1056.04,1281.27 L1053.87,1281.27 L1051.71,1281.26 L1049.54,1281.26 L1047.38,1281.26 L1045.21,1281.25 L1043.05,1281.25 L1040.88,1281.25 L1038.72,1281.24 L1036.55,1281.24 L1034.39,1281.23 L1032.23,1281.23 L1030.06,1281.22 L1027.90,1281.22 L1025.73,1281.22 L1023.57,1281.21 L1021.40,1281.21 L1019.24,1281.20 L1017.07,1281.20 L1014.91,1281.19 L1012.74,1281.19 L1010.58,1281.18 L1008.41,1281.18 L1006.25,1281.17 L1004.08,1281.16 L1001.92,1281.16 L999.75,1281.15 L997.59,1281.15 L995.42,1281.14 L993.26,1281.14 L991.09,1281.13 L988.93,1281.12 L986.76,1281.12 L984.60,1281.11 L982.43,1281.11 L980.27,1281.10 L978.10,1281.09 L975.94,1281.09 L973.77,1281.08 L971.61,1281.08 L969.44,1281.07 L967.28,1281.06 L965.11,1281.06 L962.95,1281.05 L960.78,1281.05 L958.62,1281.04 L956.45,1281.03 L954.29,1281.03 L952.12,1281.02 L949.96,1281.01 L947.79,1281.01 L945.63,1281.00 L943.46,1281.00 L941.30,1280.99 L939.13,1280.98 L936.97,1280.98 L934.80,1280.97 L932.64,1280.97 L930.47,1280.96 L928.31,1280.95 L926.14,1280.95 L923.98,1280.94 L921.81,1280.94 L919.65,1280.93 L917.48,1280.93 L915.32,1280.92 L913.15,1280.91 L910.99,1280.91 L908.82,1280.90 L906.66,1280.90 L904.49,1280.89 L902.33,1280.89 L900.16,1280.88 L898.00,1280.88 L895.83,1280.87 L893.67,1280.87 L891.50,1280.86 L889.34,1280.86 L887.17,1280.85 L885.01,1280.85 L882.84,1280.85 L880.68,1280.84 L878.51,1280.84 L876.35,1280.83 L874.18,1280.83 L872.02,1280.83 L869.85,1280.82 L867.69,1280.82 L865.52,1280.81 L863.36,1280.81 L861.19,1280.81 L859.03,1280.81 L856.86,1280.80 L854.70,1280.80 Z" fill="none" stroke="#ff0080" stroke-width="3.2" stroke-linejoin="round" stroke-linecap="round"/>
<path d="M854.70,1300.40 L856.59,1299.29 L858.49,1298.22 L860.40,1297.18 L862.33,1296.18 L864.26,1295.22 L866.21,1294.29 L868.17,1293.39 L870.13,1292.52 L872.11,1291.68 L874.10,1290.88 L876.09,1290.11 L878.10,1289.36 L880.11,1288.64 L882.13,1287.96 L884.17,1287.29 L886.21,1286.66 L888.25,1286.05 L890.31,1285.47 L892.38,1284.91 L894.45,1284.38 L896.53,1283.87 L898.61,1283.38 L900.70,1282.91 L902.80,1282.47 L904.91,1282.04 L907.02,1281.64 L909.14,1281.25 L911.26,1280.89 L913.39,1280.54 L915.53,1280.21 L917.66,1279.89 L919.81,1279.59 L921.96,1279.31 L924.11,1279.04 L926.27,1278.79 L928.43,1278.54 L930.59,1278.31 L932.76,1278.10 L934.93,1277.89 L937.11,1277.69 L939.28,1277.51 L941.46,1277.33 L943.64,1277.16 L945.83,1277.00 L948.01,1276.85 L950.20,1276.70 L952.39,1276.56 L954.58,1276.42 L956.77,1276.29 L958.96,1276.16 L961.15,1276.03 L963.34,1275.91 L965.54,1275.79 L967.73,1275.67 L969.92,1275.55 L972.11,1275.43 L974.30,1275.31 L976.49,1275.20 L978.68,1275.08 L980.88,1274.97 L983.07,1274.86 L985.26,1274.75 L987.45,1274.63 L989.64,1274.52 L991.83,1274.42 L994.02,1274.31 L996.21,1274.20 L998.40,1274.09 L1000.59,1273.99 L1002.78,1273.88 L1004.97,1273.78 L1007.16,1273.68 L1009.35,1273.57 L1011.54,1273.47 L1013.73,1273.37 L1015.92,1273.27 L1018.11,1273.17 L1020.29,1273.07 L1022.48,1272.97 L1024.67,1272.87 L1026.86,1272.77 L1029.05,1272.67 L1031.24,1272.58 L1033.42,1272.48 L1035.61,1272.38 L1037.80,1272.29 L1039.99,1272.19 L1042.17,1272.10 L1044.36,1272.00 L1046.55,1271.90 L1048.74,1271.81 L1050.92,1271.72 L1053.11,1271.62 L1055.30,1271.53 L1057.48,1271.43 L1059.67,1271.34 L1061.86,1271.24 L1064.04,1271.15 L1066.23,1271.06 L1068.41,1270.96 L1070.60,1270.87 L1072.79,1270.77 L1074.97,1270.68 L1077.16,1270.59 L1079.34,1270.49 L1081.53,1270.40 L1083.71,1270.30 L1085.90,1270.21 L1088.08,1270.11 L1090.27,1270.02 L1092.45,1269.92 L1094.64,1269.82 L1096.82,1269.73 L1099.01,1269.63 L1101.19,1269.53 L1103.37,1269.44 L1105.56,1269.34 L1107.74,1269.24 L1109.93,1269.14 L1112.11,1269.04 L1114.29,1268.94 L1116.48,1268.84 L1118.66,1268.74 L1120.84,1268.64 L1123.03,1268.54 L1125.21,1268.43 L1127.39,1268.33 L1129.57,1268.23 L1131.76,1268.12 L1133.94,1268.02 L1136.12,1267.92 L1138.30,1267.81 L1140.49,1267.71 L1142.67,1267.60 L1144.85,1267.50 L1147.03,1267.39 L1149.21,1267.28 L1151.40,1267.18 L1153.58,1267.07 L1155.76,1266.96 L1157.94,1266.85 L1160.12,1266.75 L1162.30,1266.64 L1164.49,1266.53 L1166.67,1266.42 L1168.85,1266.31 L1171.03,1266.20 L1173.21,1266.09 L1175.39,1265.98 L1177.57,1265.87 L1179.75,1265.76 L1181.94,1265.65 L1184.12,1265.54 L1186.30,1265.43 L1188.48,1265.32 L1190.66,1265.21 L1192.84,1265.10 L1195.02,1264.99 L1197.20,1264.88 L1199.38,1264.76 L1201.56,1264.65 L1203.75,1264.54 L1205.93,1264.43 L1208.11,1264.32 L1210.29,1264.20 L1212.47,1264.09 L1214.65,1263.98 L1216.83,1263.86 L1219.01,1263.75 L1221.19,1263.64 L1223.37,1263.53 L1225.55,1263.41 L1227.73,1263.30 L1229.91,1263.19 L1232.10,1263.07 L1234.28,1262.96 L1236.46,1262.85 L1238.64,1262.73 L1240.82,1262.62 L1243.00,1262.51 L1245.18,1262.39 L1247.36,1262.28 L1249.54,1262.17 L1251.72,1262.05 L1253.90,1261.94 L1256.09,1261.83 L1258.27,1261.71 L1260.45,1261.60 L1262.63,1261.49 L1264.81,1261.38 L1266.99,1261.26 L1269.17,1261.15 L1271.35,1261.04 L1273.54,1260.92 L1275.72,1260.81 L1277.90,1260.70 L1280.08,1260.59 L1282.26,1260.48 L1284.44,1260.36 L1286.63,1260.25 L1288.81,1260.14 L1290.99,1260.03 L1293.17,1259.92 L1295.36,1259.81 L1297.54,1259.70 L1299.72,1259.59 L1301.90,1259.48 L1304.08,1259.37 L1306.27,1259.26 L1308.45,1259.15 L1310.63,1259.04 L1312.82,1258.93 L1315.00,1258.82 L1317.18,1258.71 L1319.37,1258.60 L1321.55,1258.49 L1323.73,1258.39 L1325.92,1258.28 L1328.10,1258.17 L1330.28,1258.06 L1332.47,1257.96 L1334.65,1257.85 L1336.83,1257.74 L1339.02,1257.64 L1341.20,1257.53 L1343.39,1257.43 L1345.57,1257.32 L1347.76,1257.22 L1349.94,1257.12 L1352.13,1257.01 L1354.31,1256.91 L1356.50,1256.81 L1358.68,1256.71 L1360.87,1256.60 L1363.06,1256.50 L1365.24,1256.40 L1367.43,1256.30 L1369.61,1256.20 L1371.80,1256.10 L1369.91,1257.25 L1368.01,1258.37 L1366.10,1259.45 L1364.18,1260.50 L1362.25,1261.51 L1360.30,1262.49 L1358.35,1263.45 L1356.39,1264.37 L1354.42,1265.26 L1352.43,1266.12 L1350.44,1266.95 L1348.44,1267.76 L1346.43,1268.54 L1344.42,1269.29 L1342.39,1270.01 L1340.36,1270.71 L1338.32,1271.38 L1336.27,1272.03 L1334.21,1272.65 L1332.15,1273.25 L1330.08,1273.83 L1328.00,1274.39 L1325.91,1274.92 L1323.82,1275.43 L1321.73,1275.92 L1319.62,1276.40 L1317.52,1276.85 L1315.40,1277.29 L1313.28,1277.70 L1311.16,1278.10 L1309.03,1278.49 L1306.90,1278.85 L1304.76,1279.20 L1302.62,1279.54 L1300.47,1279.86 L1298.32,1280.17 L1296.17,1280.46 L1294.01,1280.75 L1291.85,1281.02 L1289.69,1281.28 L1287.53,1281.52 L1285.36,1281.76 L1283.19,1281.99 L1281.02,1282.21 L1278.84,1282.42 L1276.67,1282.63 L1274.49,1282.82 L1272.31,1283.01 L1270.13,1283.20 L1267.96,1283.38 L1265.77,1283.55 L1263.59,1283.72 L1261.41,1283.88 L1259.23,1284.04 L1257.05,1284.20 L1254.86,1284.34 L1252.68,1284.49 L1250.49,1284.63 L1248.31,1284.76 L1246.12,1284.90 L1243.94,1285.02 L1241.75,1285.15 L1239.56,1285.26 L1237.37,1285.38 L1235.19,1285.49 L1233.00,1285.60 L1230.81,1285.71 L1228.62,1285.81 L1226.43,1285.91 L1224.23,1286.00 L1222.04,1286.10 L1219.85,1286.19 L1217.66,1286.27 L1215.47,1286.36 L1213.28,1286.44 L1211.08,1286.52 L1208.89,1286.60 L1206.70,1286.68 L1204.50,1286.75 L1202.31,1286.82 L1200.11,1286.89 L1197.92,1286.96 L1195.73,1287.03 L1193.53,1287.10 L1191.34,1287.16 L1189.14,1287.23 L1186.95,1287.29 L1184.75,1287.35 L1182.56,1287.41 L1180.36,1287.48 L1178.17,1287.54 L1175.97,1287.60 L1173.78,1287.66 L1171.58,1287.72 L1169.39,1287.78 L1167.19,1287.84 L1165.00,1287.90 L1162.81,1287.96 L1160.61,1288.02 L1158.42,1288.09 L1156.22,1288.15 L1154.03,1288.21 L1151.84,1288.28 L1149.64,1288.34 L1147.45,1288.41 L1145.26,1288.48 L1143.06,1288.55 L1140.87,1288.62 L1138.68,1288.70 L1136.49,1288.77 L1134.30,1288.85 L1132.11,1288.93 L1129.91,1289.01 L1127.72,1289.10 L1125.54,1289.18 L1123.35,1289.27 L1121.16,1289.36 L1118.97,1289.46 L1116.78,1289.55 L1114.59,1289.65 L1112.40,1289.74 L1110.22,1289.84 L1108.03,1289.94 L1105.84,1290.05 L1103.66,1290.15 L1101.47,1290.26 L1099.29,1290.36 L1097.10,1290.47 L1094.91,1290.58 L1092.73,1290.70 L1090.54,1290.81 L1088.36,1290.92 L1086.18,1291.04 L1083.99,1291.16 L1081.81,1291.27 L1079.63,1291.39 L1077.44,1291.51 L1075.26,1291.63 L1073.08,1291.75 L1070.89,1291.88 L1068.71,1292.00 L1066.53,1292.12 L1064.35,1292.25 L1062.16,1292.37 L1059.98,1292.50 L1057.80,1292.63 L1055.62,1292.76 L1053.44,1292.88 L1051.26,1293.01 L1049.08,1293.14 L1046.90,1293.27 L1044.72,1293.40 L1042.53,1293.53 L1040.35,1293.66 L1038.17,1293.79 L1035.99,1293.92 L1033.81,1294.05 L1031.63,1294.18 L1029.45,1294.31 L1027.27,1294.44 L1025.09,1294.57 L1022.91,1294.70 L1020.73,1294.83 L1018.55,1294.96 L1016.37,1295.09 L1014.19,1295.22 L1012.02,1295.34 L1009.84,1295.47 L1007.66,1295.60 L1005.48,1295.73 L1003.30,1295.85 L1001.12,1295.98 L998.94,1296.10 L996.76,1296.23 L994.58,1296.35 L992.40,1296.47 L990.22,1296.59 L988.04,1296.71 L985.86,1296.83 L983.68,1296.95 L981.50,1297.07 L979.32,1297.19 L977.14,1297.30 L974.96,1297.41 L972.78,1297.53 L970.60,1297.64 L968.42,1297.75 L966.24,1297.86 L964.05,1297.96 L961.87,1298.07 L959.69,1298.17 L957.51,1298.28 L955.33,1298.38 L953.15,1298.48 L950.97,1298.57 L948.78,1298.67 L946.60,1298.76 L944.42,1298.85 L942.24,1298.94 L940.05,1299.03 L937.87,1299.12 L935.69,1299.20 L933.50,1299.28 L931.32,1299.36 L929.14,1299.44 L926.95,1299.51 L924.77,1299.59 L922.58,1299.66 L920.40,1299.73 L918.21,1299.79 L916.03,1299.85 L913.84,1299.91 L911.66,1299.97 L909.47,1300.03 L907.28,1300.08 L905.10,1300.13 L902.91,1300.18 L900.72,1300.22 L898.54,1300.26 L896.35,1300.30 L894.16,1300.33 L891.97,1300.37 L889.78,1300.39 L887.59,1300.42 L885.40,1300.44 L883.21,1300.46 L881.02,1300.48 L878.83,1300.49 L876.64,1300.50 L874.45,1300.51 L872.25,1300.51 L870.06,1300.51 L867.87,1300.50 L865.67,1300.50 L863.48,1300.48 L861.29,1300.47 L859.09,1300.45 L856.90,1300.43 L854.70,1300.40 Z" fill="none" stroke="#ff0000" stroke-width="2.6" stroke-linejoin="round" stroke-linecap="round"/>
<path d="M855.80,1310.60 L857.48,1309.07 L859.18,1307.60 L860.90,1306.16 L862.64,1304.77 L864.40,1303.42 L866.18,1302.11 L867.97,1300.84 L869.79,1299.61 L871.61,1298.41 L873.46,1297.26 L875.32,1296.14 L877.20,1295.06 L879.09,1294.01 L880.99,1293.00 L882.91,1292.02 L884.85,1291.07 L886.80,1290.16 L888.76,1289.28 L890.73,1288.42 L892.72,1287.60 L894.72,1286.81 L896.73,1286.05 L898.75,1285.31 L900.79,1284.61 L902.83,1283.93 L904.88,1283.27 L906.95,1282.64 L909.02,1282.03 L911.10,1281.45 L913.20,1280.89 L915.29,1280.35 L917.40,1279.83 L919.52,1279.33 L921.64,1278.86 L923.77,1278.40 L925.90,1277.96 L928.05,1277.53 L930.19,1277.13 L932.34,1276.74 L934.50,1276.36 L936.66,1276.00 L938.83,1275.65 L941.00,1275.32 L943.17,1275.00 L945.35,1274.68 L947.52,1274.38 L949.70,1274.09 L951.89,1273.81 L954.07,1273.54 L956.26,1273.28 L958.44,1273.02 L960.63,1272.77 L962.82,1272.53 L965.01,1272.29 L967.20,1272.07 L969.39,1271.85 L971.58,1271.64 L973.78,1271.43 L975.97,1271.23 L978.17,1271.04 L980.37,1270.85 L982.56,1270.67 L984.76,1270.49 L986.96,1270.32 L989.16,1270.16 L991.36,1270.00 L993.57,1269.85 L995.77,1269.70 L997.97,1269.56 L1000.18,1269.42 L1002.38,1269.28 L1004.59,1269.15 L1006.79,1269.03 L1009.00,1268.90 L1011.21,1268.79 L1013.42,1268.67 L1015.62,1268.56 L1017.83,1268.45 L1020.04,1268.35 L1022.25,1268.25 L1024.46,1268.15 L1026.67,1268.05 L1028.88,1267.96 L1031.09,1267.86 L1033.30,1267.77 L1035.52,1267.69 L1037.73,1267.60 L1039.94,1267.52 L1042.15,1267.43 L1044.36,1267.35 L1046.57,1267.27 L1048.79,1267.19 L1051.00,1267.11 L1053.21,1267.03 L1055.42,1266.95 L1057.63,1266.87 L1059.85,1266.79 L1062.06,1266.72 L1064.27,1266.64 L1066.48,1266.56 L1068.69,1266.48 L1070.90,1266.40 L1073.11,1266.31 L1075.32,1266.23 L1077.53,1266.15 L1079.74,1266.06 L1081.95,1265.97 L1084.16,1265.88 L1086.37,1265.79 L1088.58,1265.70 L1090.78,1265.60 L1092.99,1265.50 L1095.20,1265.40 L1097.40,1265.29 L1099.61,1265.19 L1101.81,1265.08 L1104.02,1264.97 L1106.22,1264.86 L1108.42,1264.74 L1110.63,1264.62 L1112.83,1264.50 L1115.03,1264.38 L1117.23,1264.26 L1119.43,1264.13 L1121.63,1264.01 L1123.84,1263.88 L1126.04,1263.74 L1128.23,1263.61 L1130.43,1263.47 L1132.63,1263.34 L1134.83,1263.20 L1137.03,1263.06 L1139.23,1262.91 L1141.42,1262.77 L1143.62,1262.62 L1145.82,1262.47 L1148.01,1262.32 L1150.21,1262.17 L1152.41,1262.02 L1154.60,1261.87 L1156.80,1261.71 L1158.99,1261.55 L1161.19,1261.39 L1163.38,1261.23 L1165.57,1261.07 L1167.77,1260.91 L1169.96,1260.74 L1172.16,1260.58 L1174.35,1260.41 L1176.54,1260.24 L1178.73,1260.07 L1180.93,1259.90 L1183.12,1259.73 L1185.31,1259.55 L1187.50,1259.38 L1189.70,1259.21 L1191.89,1259.03 L1194.08,1258.85 L1196.27,1258.67 L1198.46,1258.49 L1200.65,1258.31 L1202.84,1258.13 L1205.03,1257.95 L1207.22,1257.77 L1209.41,1257.58 L1211.61,1257.40 L1213.80,1257.21 L1215.99,1257.03 L1218.18,1256.84 L1220.37,1256.65 L1222.56,1256.46 L1224.75,1256.28 L1226.94,1256.09 L1229.13,1255.90 L1231.32,1255.71 L1233.51,1255.52 L1235.70,1255.33 L1237.89,1255.13 L1240.08,1254.94 L1242.27,1254.75 L1244.46,1254.56 L1246.65,1254.36 L1248.84,1254.17 L1251.03,1253.98 L1253.22,1253.78 L1255.41,1253.59 L1257.60,1253.40 L1259.79,1253.20 L1261.98,1253.01 L1264.17,1252.82 L1266.36,1252.62 L1268.55,1252.43 L1270.74,1252.23 L1272.94,1252.04 L1275.13,1251.85 L1277.32,1251.65 L1279.51,1251.46 L1281.70,1251.27 L1283.89,1251.07 L1286.09,1250.88 L1288.28,1250.69 L1290.47,1250.50 L1292.66,1250.30 L1294.86,1250.11 L1297.05,1249.92 L1299.24,1249.73 L1301.44,1249.54 L1303.63,1249.35 L1305.82,1249.16 L1308.02,1248.97 L1310.21,1248.79 L1312.41,1248.60 L1314.60,1248.41 L1316.80,1248.23 L1318.99,1248.04 L1321.19,1247.86 L1323.39,1247.68 L1325.58,1247.49 L1327.78,1247.31 L1329.98,1247.13 L1332.17,1246.95 L1334.37,1246.77 L1336.57,1246.59 L1338.77,1246.42 L1340.97,1246.24 L1343.17,1246.06 L1345.37,1245.89 L1347.57,1245.72 L1349.77,1245.55 L1351.97,1245.38 L1354.17,1245.21 L1356.37,1245.04 L1358.58,1244.87 L1360.78,1244.71 L1362.98,1244.54 L1365.19,1244.38 L1367.39,1244.22 L1369.60,1244.06 L1371.80,1243.90 L1370.44,1245.80 L1369.04,1247.63 L1367.60,1249.38 L1366.12,1251.07 L1364.59,1252.69 L1363.03,1254.25 L1361.42,1255.75 L1359.78,1257.18 L1358.11,1258.55 L1356.40,1259.87 L1354.66,1261.13 L1352.89,1262.34 L1351.09,1263.49 L1349.26,1264.60 L1347.40,1265.65 L1345.52,1266.66 L1343.61,1267.63 L1341.68,1268.55 L1339.72,1269.43 L1337.75,1270.27 L1335.75,1271.07 L1333.74,1271.84 L1331.71,1272.57 L1329.66,1273.28 L1327.60,1273.95 L1325.53,1274.59 L1323.44,1275.20 L1321.34,1275.79 L1319.23,1276.35 L1317.10,1276.88 L1314.97,1277.39 L1312.82,1277.88 L1310.67,1278.34 L1308.51,1278.79 L1306.33,1279.21 L1304.15,1279.61 L1301.96,1279.99 L1299.77,1280.36 L1297.57,1280.70 L1295.36,1281.04 L1293.15,1281.35 L1290.93,1281.66 L1288.71,1281.95 L1286.49,1282.22 L1284.26,1282.49 L1282.03,1282.75 L1279.80,1282.99 L1277.57,1283.23 L1275.33,1283.46 L1273.10,1283.69 L1270.87,1283.91 L1268.64,1284.12 L1266.41,1284.33 L1264.18,1284.54 L1261.95,1284.74 L1259.73,1284.94 L1257.50,1285.14 L1255.28,1285.33 L1253.06,1285.51 L1250.83,1285.70 L1248.61,1285.88 L1246.39,1286.05 L1244.18,1286.23 L1241.96,1286.40 L1239.74,1286.57 L1237.52,1286.73 L1235.31,1286.89 L1233.10,1287.05 L1230.88,1287.21 L1228.67,1287.36 L1226.46,1287.51 L1224.25,1287.66 L1222.04,1287.81 L1219.83,1287.95 L1217.62,1288.10 L1215.41,1288.24 L1213.20,1288.38 L1210.99,1288.52 L1208.79,1288.65 L1206.58,1288.79 L1204.38,1288.92 L1202.17,1289.06 L1199.97,1289.19 L1197.76,1289.32 L1195.56,1289.45 L1193.36,1289.58 L1191.15,1289.71 L1188.95,1289.84 L1186.75,1289.97 L1184.55,1290.10 L1182.34,1290.22 L1180.14,1290.35 L1177.94,1290.48 L1175.74,1290.61 L1173.54,1290.74 L1171.34,1290.87 L1169.14,1291.00 L1166.94,1291.13 L1164.73,1291.26 L1162.53,1291.39 L1160.33,1291.52 L1158.13,1291.66 L1155.93,1291.79 L1153.73,1291.93 L1151.53,1292.07 L1149.33,1292.21 L1147.13,1292.35 L1144.93,1292.49 L1142.72,1292.63 L1140.52,1292.78 L1138.32,1292.93 L1136.12,1293.08 L1133.92,1293.23 L1131.71,1293.39 L1129.51,1293.54 L1127.31,1293.70 L1125.10,1293.86 L1122.90,1294.02 L1120.70,1294.18 L1118.49,1294.34 L1116.29,1294.50 L1114.09,1294.67 L1111.88,1294.84 L1109.68,1295.00 L1107.47,1295.17 L1105.27,1295.34 L1103.06,1295.51 L1100.86,1295.69 L1098.65,1295.86 L1096.45,1296.03 L1094.24,1296.21 L1092.03,1296.39 L1089.83,1296.56 L1087.62,1296.74 L1085.42,1296.92 L1083.21,1297.10 L1081.00,1297.28 L1078.80,1297.46 L1076.59,1297.64 L1074.38,1297.82 L1072.18,1298.00 L1069.97,1298.18 L1067.76,1298.37 L1065.56,1298.55 L1063.35,1298.73 L1061.14,1298.92 L1058.93,1299.10 L1056.73,1299.28 L1054.52,1299.47 L1052.31,1299.65 L1050.10,1299.83 L1047.89,1300.02 L1045.69,1300.20 L1043.48,1300.38 L1041.27,1300.57 L1039.06,1300.75 L1036.85,1300.93 L1034.64,1301.12 L1032.44,1301.30 L1030.23,1301.48 L1028.02,1301.66 L1025.81,1301.84 L1023.60,1302.02 L1021.39,1302.20 L1019.18,1302.38 L1016.97,1302.56 L1014.77,1302.73 L1012.56,1302.91 L1010.35,1303.09 L1008.14,1303.26 L1005.93,1303.44 L1003.72,1303.61 L1001.51,1303.78 L999.30,1303.95 L997.09,1304.12 L994.88,1304.29 L992.67,1304.46 L990.46,1304.62 L988.26,1304.79 L986.05,1304.95 L983.84,1305.11 L981.63,1305.27 L979.42,1305.43 L977.21,1305.59 L975.00,1305.75 L972.79,1305.90 L970.58,1306.06 L968.37,1306.21 L966.16,1306.36 L963.95,1306.50 L961.74,1306.65 L959.54,1306.79 L957.33,1306.94 L955.12,1307.08 L952.91,1307.21 L950.70,1307.35 L948.49,1307.48 L946.28,1307.62 L944.07,1307.75 L941.86,1307.87 L939.66,1308.00 L937.45,1308.12 L935.24,1308.24 L933.03,1308.36 L930.82,1308.47 L928.61,1308.59 L926.41,1308.70 L924.20,1308.81 L921.99,1308.91 L919.78,1309.01 L917.57,1309.11 L915.37,1309.21 L913.16,1309.30 L910.95,1309.39 L908.74,1309.48 L906.54,1309.57 L904.33,1309.65 L902.12,1309.73 L899.91,1309.81 L897.71,1309.88 L895.50,1309.95 L893.29,1310.01 L891.09,1310.08 L888.88,1310.14 L886.67,1310.19 L884.47,1310.25 L882.26,1310.30 L880.06,1310.34 L877.85,1310.38 L875.64,1310.42 L873.44,1310.46 L871.23,1310.49 L869.03,1310.52 L866.82,1310.54 L864.62,1310.56 L862.41,1310.58 L860.21,1310.59 L858.00,1310.60 L855.80,1310.60 Z" fill="none" stroke="#00ff00" stroke-width="3.0" stroke-linejoin="round" stroke-linecap="round"/>
<path d="M855.80,1330.00 L856.90,1327.90 L858.05,1325.86 L859.25,1323.87 L860.49,1321.93 L861.77,1320.04 L863.09,1318.21 L864.46,1316.42 L865.86,1314.68 L867.30,1312.99 L868.78,1311.35 L870.29,1309.75 L871.85,1308.20 L873.43,1306.69 L875.05,1305.22 L876.70,1303.80 L878.39,1302.41 L880.10,1301.07 L881.85,1299.77 L883.62,1298.50 L885.42,1297.28 L887.25,1296.08 L889.11,1294.93 L890.99,1293.81 L892.89,1292.72 L894.82,1291.67 L896.77,1290.65 L898.74,1289.66 L900.73,1288.70 L902.74,1287.77 L904.77,1286.87 L906.81,1285.99 L908.87,1285.15 L910.95,1284.32 L913.04,1283.53 L915.15,1282.76 L917.26,1282.01 L919.39,1281.28 L921.53,1280.57 L923.68,1279.88 L925.84,1279.22 L928.01,1278.57 L930.18,1277.94 L932.36,1277.32 L934.54,1276.72 L936.72,1276.14 L938.91,1275.57 L941.11,1275.01 L943.30,1274.47 L945.50,1273.94 L947.70,1273.43 L949.90,1272.92 L952.11,1272.43 L954.32,1271.95 L956.53,1271.49 L958.75,1271.03 L960.96,1270.59 L963.18,1270.16 L965.40,1269.74 L967.63,1269.33 L969.85,1268.93 L972.08,1268.54 L974.31,1268.16 L976.54,1267.79 L978.77,1267.43 L981.01,1267.08 L983.25,1266.74 L985.49,1266.41 L987.73,1266.09 L989.97,1265.77 L992.22,1265.46 L994.46,1265.16 L996.71,1264.87 L998.96,1264.59 L1001.21,1264.31 L1003.46,1264.04 L1005.71,1263.77 L1007.97,1263.51 L1010.22,1263.26 L1012.48,1263.02 L1014.74,1262.78 L1016.99,1262.54 L1019.25,1262.31 L1021.51,1262.08 L1023.77,1261.86 L1026.03,1261.65 L1028.30,1261.43 L1030.56,1261.23 L1032.82,1261.02 L1035.09,1260.82 L1037.35,1260.62 L1039.62,1260.42 L1041.88,1260.23 L1044.14,1260.04 L1046.41,1259.85 L1048.68,1259.66 L1050.94,1259.48 L1053.21,1259.29 L1055.47,1259.11 L1057.74,1258.93 L1060.00,1258.74 L1062.27,1258.56 L1064.53,1258.38 L1066.80,1258.20 L1069.06,1258.02 L1071.32,1257.83 L1073.59,1257.65 L1075.85,1257.47 L1078.11,1257.28 L1080.37,1257.09 L1082.63,1256.90 L1084.89,1256.71 L1087.15,1256.52 L1089.41,1256.32 L1091.66,1256.13 L1093.92,1255.93 L1096.18,1255.73 L1098.43,1255.53 L1100.69,1255.32 L1102.94,1255.12 L1105.20,1254.91 L1107.45,1254.71 L1109.70,1254.50 L1111.95,1254.29 L1114.21,1254.08 L1116.46,1253.86 L1118.71,1253.65 L1120.96,1253.43 L1123.21,1253.21 L1125.46,1252.99 L1127.70,1252.77 L1129.95,1252.55 L1132.20,1252.33 L1134.45,1252.10 L1136.69,1251.88 L1138.94,1251.65 L1141.18,1251.42 L1143.43,1251.19 L1145.67,1250.96 L1147.92,1250.73 L1150.16,1250.49 L1152.40,1250.26 L1154.65,1250.02 L1156.89,1249.78 L1159.13,1249.54 L1161.37,1249.30 L1163.62,1249.06 L1165.86,1248.82 L1168.10,1248.57 L1170.34,1248.33 L1172.58,1248.08 L1174.82,1247.83 L1177.06,1247.58 L1179.30,1247.33 L1181.54,1247.08 L1183.77,1246.83 L1186.01,1246.57 L1188.25,1246.32 L1190.49,1246.06 L1192.73,1245.81 L1194.96,1245.55 L1197.20,1245.29 L1199.44,1245.03 L1201.68,1244.77 L1203.91,1244.51 L1206.15,1244.24 L1208.39,1243.98 L1210.62,1243.71 L1212.86,1243.45 L1215.09,1243.18 L1217.33,1242.91 L1219.56,1242.64 L1221.80,1242.37 L1224.04,1242.10 L1226.27,1241.83 L1228.51,1241.55 L1230.74,1241.28 L1232.98,1241.01 L1235.21,1240.73 L1237.45,1240.45 L1239.68,1240.18 L1241.92,1239.90 L1244.15,1239.62 L1246.39,1239.34 L1248.62,1239.06 L1250.86,1238.78 L1253.09,1238.49 L1255.32,1238.21 L1257.56,1237.93 L1259.79,1237.64 L1262.03,1237.36 L1264.26,1237.07 L1266.50,1236.78 L1268.74,1236.50 L1270.97,1236.21 L1273.21,1235.92 L1275.44,1235.63 L1277.68,1235.34 L1279.91,1235.05 L1282.15,1234.76 L1284.38,1234.46 L1286.62,1234.17 L1288.86,1233.88 L1291.09,1233.58 L1293.33,1233.29 L1295.57,1232.99 L1297.80,1232.70 L1300.04,1232.40 L1302.28,1232.11 L1304.52,1231.81 L1306.75,1231.51 L1308.99,1231.21 L1311.23,1230.91 L1313.47,1230.61 L1315.71,1230.31 L1317.95,1230.01 L1320.19,1229.71 L1322.43,1229.41 L1324.67,1229.11 L1326.91,1228.81 L1329.15,1228.51 L1331.39,1228.20 L1333.63,1227.90 L1335.87,1227.60 L1338.12,1227.29 L1340.36,1226.99 L1342.60,1226.68 L1344.85,1226.38 L1347.09,1226.07 L1349.33,1225.77 L1351.58,1225.46 L1353.82,1225.16 L1356.07,1224.85 L1358.31,1224.54 L1360.56,1224.24 L1362.81,1223.93 L1365.06,1223.62 L1367.30,1223.31 L1369.55,1223.01 L1371.80,1222.70 L1370.96,1225.08 L1370.06,1227.39 L1369.11,1229.64 L1368.11,1231.83 L1367.05,1233.96 L1365.95,1236.03 L1364.80,1238.03 L1363.60,1239.99 L1362.35,1241.88 L1361.06,1243.72 L1359.73,1245.50 L1358.35,1247.24 L1356.93,1248.91 L1355.46,1250.54 L1353.96,1252.12 L1352.42,1253.65 L1350.84,1255.13 L1349.22,1256.56 L1347.57,1257.95 L1345.88,1259.29 L1344.16,1260.59 L1342.41,1261.84 L1340.62,1263.06 L1338.81,1264.23 L1336.96,1265.36 L1335.08,1266.46 L1333.18,1267.52 L1331.25,1268.54 L1329.30,1269.53 L1327.32,1270.48 L1325.31,1271.40 L1323.29,1272.28 L1321.24,1273.14 L1319.18,1273.96 L1317.09,1274.76 L1314.99,1275.53 L1312.87,1276.27 L1310.73,1276.99 L1308.58,1277.68 L1306.41,1278.35 L1304.23,1278.99 L1302.04,1279.62 L1299.84,1280.22 L1297.62,1280.81 L1295.40,1281.37 L1293.17,1281.92 L1290.94,1282.45 L1288.70,1282.97 L1286.45,1283.48 L1284.20,1283.97 L1281.95,1284.45 L1279.70,1284.92 L1277.45,1285.37 L1275.19,1285.82 L1272.94,1286.26 L1270.68,1286.69 L1268.42,1287.11 L1266.16,1287.52 L1263.91,1287.92 L1261.65,1288.31 L1259.39,1288.70 L1257.12,1289.07 L1254.86,1289.44 L1252.60,1289.80 L1250.34,1290.15 L1248.07,1290.50 L1245.81,1290.84 L1243.54,1291.17 L1241.28,1291.49 L1239.01,1291.81 L1236.74,1292.12 L1234.48,1292.42 L1232.21,1292.72 L1229.94,1293.01 L1227.67,1293.30 L1225.40,1293.58 L1223.13,1293.85 L1220.86,1294.12 L1218.59,1294.39 L1216.32,1294.65 L1214.05,1294.91 L1211.78,1295.16 L1209.51,1295.41 L1207.24,1295.65 L1204.97,1295.90 L1202.70,1296.13 L1200.42,1296.37 L1198.15,1296.60 L1195.88,1296.83 L1193.61,1297.05 L1191.33,1297.28 L1189.06,1297.50 L1186.79,1297.72 L1184.52,1297.94 L1182.24,1298.16 L1179.97,1298.37 L1177.70,1298.58 L1175.43,1298.80 L1173.15,1299.01 L1170.88,1299.22 L1168.61,1299.43 L1166.34,1299.65 L1164.07,1299.86 L1161.80,1300.07 L1159.52,1300.28 L1157.25,1300.50 L1154.98,1300.71 L1152.71,1300.93 L1150.44,1301.14 L1148.17,1301.36 L1145.90,1301.58 L1143.64,1301.80 L1141.37,1302.02 L1139.10,1302.24 L1136.83,1302.46 L1134.56,1302.69 L1132.29,1302.91 L1130.03,1303.14 L1127.76,1303.36 L1125.49,1303.59 L1123.23,1303.82 L1120.96,1304.05 L1118.69,1304.27 L1116.43,1304.50 L1114.16,1304.74 L1111.90,1304.97 L1109.63,1305.20 L1107.37,1305.43 L1105.10,1305.67 L1102.84,1305.90 L1100.57,1306.13 L1098.31,1306.37 L1096.04,1306.60 L1093.78,1306.84 L1091.52,1307.08 L1089.25,1307.31 L1086.99,1307.55 L1084.73,1307.79 L1082.46,1308.03 L1080.20,1308.27 L1077.94,1308.51 L1075.67,1308.75 L1073.41,1308.98 L1071.15,1309.22 L1068.88,1309.47 L1066.62,1309.71 L1064.36,1309.95 L1062.10,1310.19 L1059.83,1310.43 L1057.57,1310.67 L1055.31,1310.91 L1053.05,1311.15 L1050.79,1311.39 L1048.52,1311.64 L1046.26,1311.88 L1044.00,1312.12 L1041.74,1312.36 L1039.48,1312.60 L1037.21,1312.84 L1034.95,1313.09 L1032.69,1313.33 L1030.43,1313.57 L1028.17,1313.81 L1025.91,1314.05 L1023.64,1314.29 L1021.38,1314.53 L1019.12,1314.77 L1016.86,1315.01 L1014.60,1315.25 L1012.33,1315.49 L1010.07,1315.73 L1007.81,1315.97 L1005.55,1316.21 L1003.28,1316.45 L1001.02,1316.68 L998.76,1316.92 L996.50,1317.16 L994.23,1317.39 L991.97,1317.63 L989.71,1317.87 L987.45,1318.10 L985.18,1318.33 L982.92,1318.57 L980.66,1318.80 L978.39,1319.03 L976.13,1319.26 L973.87,1319.50 L971.60,1319.73 L969.34,1319.96 L967.07,1320.18 L964.81,1320.41 L962.54,1320.64 L960.28,1320.87 L958.01,1321.09 L955.75,1321.32 L953.48,1321.54 L951.22,1321.76 L948.95,1321.98 L946.69,1322.21 L944.42,1322.43 L942.15,1322.64 L939.89,1322.86 L937.62,1323.08 L935.35,1323.29 L933.09,1323.51 L930.82,1323.72 L928.55,1323.94 L926.28,1324.15 L924.01,1324.36 L921.74,1324.57 L919.48,1324.77 L917.21,1324.98 L914.94,1325.19 L912.67,1325.39 L910.40,1325.59 L908.13,1325.79 L905.85,1325.99 L903.58,1326.19 L901.31,1326.39 L899.04,1326.58 L896.77,1326.78 L894.49,1326.97 L892.22,1327.16 L889.95,1327.35 L887.67,1327.54 L885.40,1327.73 L883.13,1327.91 L880.85,1328.09 L878.58,1328.28 L876.30,1328.46 L874.02,1328.63 L871.75,1328.81 L869.47,1328.99 L867.19,1329.16 L864.91,1329.33 L862.64,1329.50 L860.36,1329.67 L858.08,1329.83 L855.80,1330.00 Z" fill="none" stroke="#0000ff" stroke-width="2.6" stroke-linejoin="round" stroke-linecap="round"/>
<path d="M855.80,1349.40 L856.11,1346.77 L856.51,1344.21 L856.97,1341.70 L857.50,1339.24 L858.11,1336.85 L858.77,1334.51 L859.51,1332.23 L860.31,1330.00 L861.17,1327.82 L862.09,1325.70 L863.08,1323.63 L864.12,1321.61 L865.22,1319.64 L866.38,1317.72 L867.59,1315.84 L868.85,1314.02 L870.17,1312.24 L871.53,1310.51 L872.95,1308.82 L874.41,1307.17 L875.92,1305.57 L877.47,1304.01 L879.07,1302.49 L880.71,1301.01 L882.39,1299.57 L884.11,1298.17 L885.87,1296.81 L887.66,1295.49 L889.49,1294.20 L891.35,1292.94 L893.25,1291.72 L895.18,1290.54 L897.13,1289.38 L899.12,1288.26 L901.13,1287.17 L903.16,1286.11 L905.22,1285.08 L907.31,1284.07 L909.41,1283.10 L911.54,1282.15 L913.68,1281.22 L915.84,1280.32 L918.01,1279.45 L920.20,1278.59 L922.41,1277.76 L924.62,1276.95 L926.84,1276.17 L929.08,1275.40 L931.32,1274.65 L933.56,1273.91 L935.82,1273.20 L938.07,1272.50 L940.33,1271.82 L942.59,1271.15 L944.86,1270.50 L947.13,1269.86 L949.40,1269.24 L951.67,1268.63 L953.95,1268.03 L956.23,1267.45 L958.52,1266.89 L960.81,1266.33 L963.10,1265.79 L965.39,1265.26 L967.69,1264.75 L969.99,1264.24 L972.29,1263.75 L974.59,1263.27 L976.90,1262.80 L979.21,1262.34 L981.52,1261.89 L983.83,1261.45 L986.15,1261.02 L988.47,1260.60 L990.78,1260.19 L993.11,1259.79 L995.43,1259.40 L997.75,1259.01 L1000.08,1258.63 L1002.41,1258.26 L1004.74,1257.90 L1007.07,1257.54 L1009.40,1257.19 L1011.73,1256.85 L1014.06,1256.51 L1016.40,1256.18 L1018.73,1255.85 L1021.07,1255.53 L1023.41,1255.21 L1025.75,1254.90 L1028.08,1254.59 L1030.42,1254.28 L1032.76,1253.98 L1035.10,1253.68 L1037.44,1253.39 L1039.78,1253.09 L1042.13,1252.80 L1044.47,1252.51 L1046.81,1252.22 L1049.15,1251.93 L1051.49,1251.65 L1053.83,1251.36 L1056.17,1251.08 L1058.51,1250.79 L1060.85,1250.50 L1063.18,1250.22 L1065.52,1249.93 L1067.86,1249.64 L1070.19,1249.35 L1072.53,1249.06 L1074.86,1248.76 L1077.20,1248.47 L1079.53,1248.17 L1081.86,1247.87 L1084.19,1247.57 L1086.52,1247.27 L1088.85,1246.96 L1091.18,1246.66 L1093.51,1246.35 L1095.84,1246.05 L1098.16,1245.74 L1100.49,1245.43 L1102.82,1245.11 L1105.14,1244.80 L1107.47,1244.48 L1109.79,1244.17 L1112.11,1243.85 L1114.43,1243.53 L1116.76,1243.21 L1119.08,1242.89 L1121.40,1242.56 L1123.72,1242.24 L1126.04,1241.91 L1128.36,1241.58 L1130.67,1241.25 L1132.99,1240.92 L1135.31,1240.59 L1137.63,1240.25 L1139.94,1239.92 L1142.26,1239.58 L1144.57,1239.24 L1146.89,1238.90 L1149.20,1238.56 L1151.52,1238.21 L1153.83,1237.87 L1156.14,1237.52 L1158.45,1237.18 L1160.77,1236.83 L1163.08,1236.48 L1165.39,1236.13 L1167.70,1235.77 L1170.01,1235.42 L1172.32,1235.06 L1174.63,1234.71 L1176.94,1234.35 L1179.25,1233.99 L1181.56,1233.63 L1183.86,1233.27 L1186.17,1232.90 L1188.48,1232.54 L1190.79,1232.17 L1193.09,1231.80 L1195.40,1231.43 L1197.71,1231.06 L1200.01,1230.69 L1202.32,1230.32 L1204.62,1229.94 L1206.93,1229.57 L1209.23,1229.19 L1211.54,1228.81 L1213.84,1228.43 L1216.15,1228.05 L1218.45,1227.67 L1220.76,1227.28 L1223.06,1226.90 L1225.36,1226.51 L1227.67,1226.12 L1229.97,1225.73 L1232.27,1225.34 L1234.58,1224.95 L1236.88,1224.56 L1239.18,1224.17 L1241.49,1223.77 L1243.79,1223.37 L1246.09,1222.98 L1248.40,1222.58 L1250.70,1222.18 L1253.00,1221.77 L1255.30,1221.37 L1257.61,1220.97 L1259.91,1220.56 L1262.21,1220.15 L1264.51,1219.75 L1266.82,1219.34 L1269.12,1218.93 L1271.42,1218.51 L1273.72,1218.10 L1276.03,1217.69 L1278.33,1217.27 L1280.63,1216.85 L1282.93,1216.44 L1285.24,1216.02 L1287.54,1215.60 L1289.84,1215.18 L1292.15,1214.75 L1294.45,1214.33 L1296.75,1213.90 L1299.06,1213.48 L1301.36,1213.05 L1303.67,1212.62 L1305.97,1212.19 L1308.27,1211.76 L1310.58,1211.33 L1312.88,1210.90 L1315.19,1210.46 L1317.49,1210.03 L1319.80,1209.59 L1322.11,1209.15 L1324.41,1208.71 L1326.72,1208.27 L1329.02,1207.83 L1331.33,1207.39 L1333.64,1206.95 L1335.95,1206.50 L1338.25,1206.06 L1340.56,1205.61 L1342.87,1205.16 L1345.18,1204.71 L1347.49,1204.26 L1349.80,1203.81 L1352.11,1203.36 L1354.42,1202.90 L1356.73,1202.45 L1359.04,1201.99 L1361.35,1201.54 L1363.66,1201.08 L1365.97,1200.62 L1368.29,1200.16 L1370.60,1199.70 L1370.12,1202.08 L1369.59,1204.46 L1369.03,1206.82 L1368.42,1209.17 L1367.76,1211.51 L1367.06,1213.83 L1366.32,1216.13 L1365.54,1218.42 L1364.71,1220.68 L1363.84,1222.92 L1362.93,1225.14 L1361.97,1227.33 L1360.97,1229.49 L1359.92,1231.63 L1358.83,1233.73 L1357.70,1235.80 L1356.52,1237.83 L1355.30,1239.83 L1354.03,1241.80 L1352.72,1243.72 L1351.37,1245.60 L1349.97,1247.44 L1348.53,1249.24 L1347.04,1250.99 L1345.51,1252.69 L1343.93,1254.34 L1342.31,1255.95 L1340.65,1257.50 L1338.94,1258.99 L1337.18,1260.44 L1335.39,1261.83 L1333.56,1263.18 L1331.69,1264.48 L1329.78,1265.73 L1327.84,1266.95 L1325.87,1268.12 L1323.87,1269.24 L1321.83,1270.33 L1319.78,1271.39 L1317.69,1272.41 L1315.58,1273.39 L1313.45,1274.34 L1311.30,1275.26 L1309.13,1276.15 L1306.94,1277.02 L1304.74,1277.86 L1302.52,1278.67 L1300.29,1279.47 L1298.05,1280.24 L1295.81,1280.99 L1293.55,1281.72 L1291.29,1282.44 L1289.03,1283.15 L1286.76,1283.84 L1284.49,1284.51 L1282.22,1285.18 L1279.95,1285.83 L1277.67,1286.47 L1275.39,1287.09 L1273.11,1287.71 L1270.83,1288.31 L1268.54,1288.90 L1266.25,1289.48 L1263.96,1290.05 L1261.67,1290.61 L1259.38,1291.15 L1257.08,1291.69 L1254.78,1292.22 L1252.48,1292.73 L1250.18,1293.24 L1247.87,1293.74 L1245.56,1294.23 L1243.26,1294.71 L1240.95,1295.18 L1238.64,1295.65 L1236.32,1296.10 L1234.01,1296.55 L1231.69,1296.99 L1229.37,1297.43 L1227.06,1297.85 L1224.73,1298.27 L1222.41,1298.69 L1220.09,1299.09 L1217.77,1299.49 L1215.44,1299.89 L1213.12,1300.28 L1210.79,1300.67 L1208.46,1301.05 L1206.13,1301.42 L1203.80,1301.79 L1201.47,1302.16 L1199.14,1302.52 L1196.81,1302.88 L1194.48,1303.24 L1192.14,1303.59 L1189.81,1303.94 L1187.47,1304.29 L1185.14,1304.63 L1182.80,1304.98 L1180.47,1305.32 L1178.13,1305.66 L1175.80,1305.99 L1173.46,1306.33 L1171.12,1306.67 L1168.79,1307.00 L1166.45,1307.34 L1164.12,1307.67 L1161.78,1308.01 L1159.44,1308.35 L1157.11,1308.68 L1154.77,1309.02 L1152.44,1309.36 L1150.10,1309.70 L1147.77,1310.04 L1145.43,1310.38 L1143.10,1310.72 L1140.76,1311.07 L1138.43,1311.41 L1136.10,1311.76 L1133.76,1312.10 L1131.43,1312.45 L1129.10,1312.80 L1126.77,1313.15 L1124.43,1313.50 L1122.10,1313.85 L1119.77,1314.20 L1117.44,1314.55 L1115.11,1314.90 L1112.77,1315.25 L1110.44,1315.61 L1108.11,1315.96 L1105.78,1316.31 L1103.45,1316.67 L1101.12,1317.02 L1098.79,1317.38 L1096.46,1317.73 L1094.13,1318.09 L1091.80,1318.44 L1089.47,1318.80 L1087.14,1319.15 L1084.81,1319.51 L1082.48,1319.87 L1080.15,1320.22 L1077.82,1320.58 L1075.49,1320.93 L1073.16,1321.29 L1070.83,1321.65 L1068.50,1322.00 L1066.17,1322.36 L1063.84,1322.71 L1061.51,1323.07 L1059.18,1323.42 L1056.85,1323.78 L1054.52,1324.13 L1052.19,1324.49 L1049.86,1324.84 L1047.53,1325.19 L1045.20,1325.55 L1042.87,1325.90 L1040.55,1326.25 L1038.22,1326.60 L1035.89,1326.95 L1033.56,1327.30 L1031.23,1327.65 L1028.90,1328.00 L1026.57,1328.35 L1024.24,1328.69 L1021.91,1329.04 L1019.58,1329.39 L1017.25,1329.73 L1014.91,1330.07 L1012.58,1330.42 L1010.25,1330.76 L1007.92,1331.10 L1005.59,1331.44 L1003.26,1331.78 L1000.93,1332.11 L998.60,1332.45 L996.27,1332.78 L993.93,1333.12 L991.60,1333.45 L989.27,1333.78 L986.94,1334.11 L984.60,1334.44 L982.27,1334.77 L979.94,1335.09 L977.61,1335.42 L975.27,1335.74 L972.94,1336.06 L970.60,1336.38 L968.27,1336.70 L965.94,1337.01 L963.60,1337.33 L961.27,1337.64 L958.93,1337.95 L956.59,1338.26 L954.26,1338.57 L951.92,1338.87 L949.59,1339.18 L947.25,1339.48 L944.91,1339.78 L942.58,1340.08 L940.24,1340.37 L937.90,1340.67 L935.56,1340.96 L933.22,1341.25 L930.88,1341.54 L928.54,1341.82 L926.20,1342.11 L923.86,1342.39 L921.52,1342.67 L919.18,1342.94 L916.84,1343.22 L914.50,1343.49 L912.16,1343.76 L909.81,1344.02 L907.47,1344.29 L905.13,1344.55 L902.78,1344.81 L900.44,1345.06 L898.09,1345.32 L895.75,1345.57 L893.40,1345.82 L891.06,1346.06 L888.71,1346.31 L886.36,1346.55 L884.01,1346.78 L881.67,1347.02 L879.32,1347.25 L876.97,1347.48 L874.62,1347.70 L872.27,1347.93 L869.92,1348.15 L867.56,1348.36 L865.21,1348.58 L862.86,1348.79 L860.51,1348.99 L858.15,1349.20 L855.80,1349.40 Z" fill="none" stroke="#00ffff" stroke-width="3.3" stroke-linejoin="round" stroke-linecap="round"/>
</svg></body></html>
